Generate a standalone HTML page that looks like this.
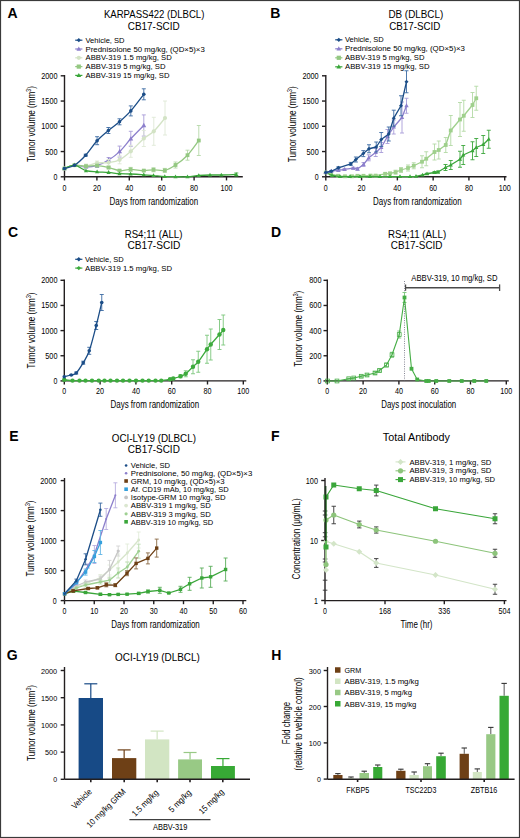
<!DOCTYPE html><html><head><meta charset="utf-8"><style>html,body{margin:0;padding:0;background:#fff;}svg{display:block;}text{font-family:"Liberation Sans",sans-serif;}</style></head><body>
<svg width="520" height="838" viewBox="0 0 520 838">
<rect x="0" y="0" width="520" height="838" fill="#fff"/>
<text x="7.50" y="17.70" font-size="14.0" font-weight="bold" fill="#000">A</text>
<text x="270.30" y="17.80" font-size="14.0" font-weight="bold" fill="#000">B</text>
<text x="8.00" y="236.80" font-size="14.0" font-weight="bold" fill="#000">C</text>
<text x="270.90" y="236.70" font-size="14.0" font-weight="bold" fill="#000">D</text>
<text x="9.30" y="440.90" font-size="14.0" font-weight="bold" fill="#000">E</text>
<text x="271.10" y="440.90" font-size="14.0" font-weight="bold" fill="#000">F</text>
<text x="6.80" y="660.20" font-size="14.0" font-weight="bold" fill="#000">G</text>
<text x="271.30" y="660.10" font-size="14.0" font-weight="bold" fill="#000">H</text>
<text x="103.88" y="18.10" font-size="10.2" textLength="100.45" lengthAdjust="spacingAndGlyphs">KARPASS422 (DLBCL)</text>
<text x="127.80" y="29.90" font-size="10.2" textLength="51.83" lengthAdjust="spacingAndGlyphs">CB17-SCID</text>
<line x1="75.20" y1="40.20" x2="82.40" y2="40.20" stroke="#1b4d87" stroke-width="1.2"/>
<path d="M78.80 38.10L80.90 40.20L78.80 42.30L76.70 40.20Z" fill="#1b4d87"/>
<text x="85.50" y="42.80" font-size="7.9" textLength="39.00" lengthAdjust="spacingAndGlyphs">Vehicle, SD</text>
<line x1="75.20" y1="49.00" x2="82.40" y2="49.00" stroke="#8c7fcc" stroke-width="1.2"/>
<path d="M78.80 46.48L81.11 50.68L76.49 50.68Z" fill="#8c7fcc"/>
<text x="85.50" y="51.60" font-size="7.9" textLength="119.30" lengthAdjust="spacingAndGlyphs">Prednisolone 50 mg/kg, (QD×5)×3</text>
<line x1="75.20" y1="57.80" x2="82.40" y2="57.80" stroke="#d3e3c5" stroke-width="1.2"/>
<circle cx="78.80" cy="57.80" r="2.10" fill="#d3e3c5"/>
<text x="85.50" y="60.40" font-size="7.9" textLength="86.30" lengthAdjust="spacingAndGlyphs">ABBV-319 1.5 mg/kg, SD</text>
<line x1="75.20" y1="66.60" x2="82.40" y2="66.60" stroke="#94c882" stroke-width="1.2"/>
<rect x="76.70" y="64.50" width="4.20" height="4.20" fill="#94c882"/>
<text x="85.50" y="69.20" font-size="7.9" textLength="80.00" lengthAdjust="spacingAndGlyphs">ABBV-319 5 mg/kg, SD</text>
<line x1="75.20" y1="75.40" x2="82.40" y2="75.40" stroke="#3aa63a" stroke-width="1.2"/>
<path d="M78.80 72.88L81.11 77.08L76.49 77.08Z" fill="#3aa63a"/>
<text x="85.50" y="78.00" font-size="7.9" textLength="84.00" lengthAdjust="spacingAndGlyphs">ABBV-319 15 mg/kg, SD</text>
<text x="34.70" y="162.10" font-size="10.4" textLength="76" lengthAdjust="spacingAndGlyphs" transform="rotate(-90 34.70 162.10)">Tumor volume (mm<tspan font-size="6.6" dy="-4.0">3</tspan><tspan dy="4.0">)</tspan></text>
<line x1="64.50" y1="75.00" x2="64.50" y2="176.80" stroke="#231f20" stroke-width="1.4"/>
<line x1="60.70" y1="176.80" x2="64.50" y2="176.80" stroke="#231f20" stroke-width="1.4"/>
<text x="57.50" y="179.80" font-size="8.4" text-anchor="end" textLength="3.90" lengthAdjust="spacingAndGlyphs">0</text>
<line x1="60.70" y1="151.55" x2="64.50" y2="151.55" stroke="#231f20" stroke-width="1.4"/>
<text x="57.50" y="154.55" font-size="8.4" text-anchor="end" textLength="12.20" lengthAdjust="spacingAndGlyphs">500</text>
<line x1="60.70" y1="126.30" x2="64.50" y2="126.30" stroke="#231f20" stroke-width="1.4"/>
<text x="57.50" y="129.30" font-size="8.4" text-anchor="end" textLength="16.20" lengthAdjust="spacingAndGlyphs">1000</text>
<line x1="60.70" y1="101.05" x2="64.50" y2="101.05" stroke="#231f20" stroke-width="1.4"/>
<text x="57.50" y="104.05" font-size="8.4" text-anchor="end" textLength="16.20" lengthAdjust="spacingAndGlyphs">1500</text>
<line x1="60.70" y1="75.80" x2="64.50" y2="75.80" stroke="#231f20" stroke-width="1.4"/>
<text x="57.50" y="78.80" font-size="8.4" text-anchor="end" textLength="16.30" lengthAdjust="spacingAndGlyphs">2000</text>
<line x1="64.50" y1="176.80" x2="242.80" y2="176.80" stroke="#231f20" stroke-width="1.4"/>
<line x1="64.50" y1="176.80" x2="64.50" y2="180.40" stroke="#231f20" stroke-width="1.4"/>
<text x="62.55" y="190.60" font-size="8.4" textLength="3.90" lengthAdjust="spacingAndGlyphs">0</text>
<line x1="96.90" y1="176.80" x2="96.90" y2="180.40" stroke="#231f20" stroke-width="1.4"/>
<text x="92.90" y="190.60" font-size="8.4" textLength="8.00" lengthAdjust="spacingAndGlyphs">20</text>
<line x1="129.30" y1="176.80" x2="129.30" y2="180.40" stroke="#231f20" stroke-width="1.4"/>
<text x="125.30" y="190.60" font-size="8.4" textLength="8.00" lengthAdjust="spacingAndGlyphs">40</text>
<line x1="161.70" y1="176.80" x2="161.70" y2="180.40" stroke="#231f20" stroke-width="1.4"/>
<text x="157.70" y="190.60" font-size="8.4" textLength="8.00" lengthAdjust="spacingAndGlyphs">60</text>
<line x1="194.10" y1="176.80" x2="194.10" y2="180.40" stroke="#231f20" stroke-width="1.4"/>
<text x="190.10" y="190.60" font-size="8.4" textLength="8.00" lengthAdjust="spacingAndGlyphs">80</text>
<line x1="226.50" y1="176.80" x2="226.50" y2="180.40" stroke="#231f20" stroke-width="1.4"/>
<text x="220.50" y="190.60" font-size="8.4" textLength="12.00" lengthAdjust="spacingAndGlyphs">100</text>
<text x="109.60" y="204.80" font-size="10.0" textLength="88.60" lengthAdjust="spacingAndGlyphs">Days from randomization</text>
<line x1="86.00" y1="166.00" x2="86.00" y2="168.00" stroke="#a89cd8" stroke-width="0.9"/>
<line x1="84.00" y1="166.00" x2="88.00" y2="166.00" stroke="#a89cd8" stroke-width="0.9"/>
<line x1="84.00" y1="168.00" x2="88.00" y2="168.00" stroke="#a89cd8" stroke-width="0.9"/>
<line x1="97.10" y1="163.50" x2="97.10" y2="167.50" stroke="#a89cd8" stroke-width="0.9"/>
<line x1="95.10" y1="163.50" x2="99.10" y2="163.50" stroke="#a89cd8" stroke-width="0.9"/>
<line x1="95.10" y1="167.50" x2="99.10" y2="167.50" stroke="#a89cd8" stroke-width="0.9"/>
<line x1="108.60" y1="157.50" x2="108.60" y2="162.50" stroke="#a89cd8" stroke-width="0.9"/>
<line x1="106.60" y1="157.50" x2="110.60" y2="157.50" stroke="#a89cd8" stroke-width="0.9"/>
<line x1="106.60" y1="162.50" x2="110.60" y2="162.50" stroke="#a89cd8" stroke-width="0.9"/>
<line x1="119.60" y1="146.10" x2="119.60" y2="157.10" stroke="#a89cd8" stroke-width="0.9"/>
<line x1="117.60" y1="146.10" x2="121.60" y2="146.10" stroke="#a89cd8" stroke-width="0.9"/>
<line x1="117.60" y1="157.10" x2="121.60" y2="157.10" stroke="#a89cd8" stroke-width="0.9"/>
<line x1="130.80" y1="131.30" x2="130.80" y2="146.30" stroke="#a89cd8" stroke-width="0.9"/>
<line x1="128.80" y1="131.30" x2="132.80" y2="131.30" stroke="#a89cd8" stroke-width="0.9"/>
<line x1="128.80" y1="146.30" x2="132.80" y2="146.30" stroke="#a89cd8" stroke-width="0.9"/>
<line x1="143.80" y1="114.90" x2="143.80" y2="136.10" stroke="#a89cd8" stroke-width="0.9"/>
<line x1="141.80" y1="114.90" x2="145.80" y2="114.90" stroke="#a89cd8" stroke-width="0.9"/>
<line x1="141.80" y1="136.10" x2="145.80" y2="136.10" stroke="#a89cd8" stroke-width="0.9"/>
<path d="M64.40 168.50C66.08 167.95 70.90 165.45 74.50 165.20C78.10 164.95 82.23 166.95 86.00 167.00C89.77 167.05 93.33 166.67 97.10 165.50C100.87 164.33 104.85 162.32 108.60 160.00C112.35 157.68 115.90 155.13 119.60 151.60C123.30 148.07 126.77 143.15 130.80 138.80C134.83 134.45 141.63 127.72 143.80 125.50" fill="none" stroke="#8c7fcc" stroke-width="1.3" stroke-linejoin="round"/>
<path d="M64.40 165.86L66.82 170.26L61.98 170.26Z" fill="#8c7fcc"/>
<path d="M74.50 162.56L76.92 166.96L72.08 166.96Z" fill="#8c7fcc"/>
<path d="M86.00 164.36L88.42 168.76L83.58 168.76Z" fill="#8c7fcc"/>
<path d="M97.10 162.86L99.52 167.26L94.68 167.26Z" fill="#8c7fcc"/>
<path d="M108.60 157.36L111.02 161.76L106.18 161.76Z" fill="#8c7fcc"/>
<path d="M119.60 148.96L122.02 153.36L117.18 153.36Z" fill="#8c7fcc"/>
<path d="M130.80 136.16L133.22 140.56L128.38 140.56Z" fill="#8c7fcc"/>
<path d="M143.80 122.86L146.22 127.26L141.38 127.26Z" fill="#8c7fcc"/>
<line x1="86.00" y1="164.00" x2="86.00" y2="168.00" stroke="#dfe9d6" stroke-width="0.9"/>
<line x1="84.00" y1="164.00" x2="88.00" y2="164.00" stroke="#dfe9d6" stroke-width="0.9"/>
<line x1="84.00" y1="168.00" x2="88.00" y2="168.00" stroke="#dfe9d6" stroke-width="0.9"/>
<line x1="97.10" y1="161.00" x2="97.10" y2="165.00" stroke="#dfe9d6" stroke-width="0.9"/>
<line x1="95.10" y1="161.00" x2="99.10" y2="161.00" stroke="#dfe9d6" stroke-width="0.9"/>
<line x1="95.10" y1="165.00" x2="99.10" y2="165.00" stroke="#dfe9d6" stroke-width="0.9"/>
<line x1="108.60" y1="159.50" x2="108.60" y2="165.50" stroke="#dfe9d6" stroke-width="0.9"/>
<line x1="106.60" y1="159.50" x2="110.60" y2="159.50" stroke="#dfe9d6" stroke-width="0.9"/>
<line x1="106.60" y1="165.50" x2="110.60" y2="165.50" stroke="#dfe9d6" stroke-width="0.9"/>
<line x1="119.60" y1="155.80" x2="119.60" y2="163.80" stroke="#dfe9d6" stroke-width="0.9"/>
<line x1="117.60" y1="155.80" x2="121.60" y2="155.80" stroke="#dfe9d6" stroke-width="0.9"/>
<line x1="117.60" y1="163.80" x2="121.60" y2="163.80" stroke="#dfe9d6" stroke-width="0.9"/>
<line x1="130.80" y1="145.30" x2="130.80" y2="157.30" stroke="#dfe9d6" stroke-width="0.9"/>
<line x1="128.80" y1="145.30" x2="132.80" y2="145.30" stroke="#dfe9d6" stroke-width="0.9"/>
<line x1="128.80" y1="157.30" x2="132.80" y2="157.30" stroke="#dfe9d6" stroke-width="0.9"/>
<line x1="143.80" y1="130.50" x2="143.80" y2="146.50" stroke="#dfe9d6" stroke-width="0.9"/>
<line x1="141.80" y1="130.50" x2="145.80" y2="130.50" stroke="#dfe9d6" stroke-width="0.9"/>
<line x1="141.80" y1="146.50" x2="145.80" y2="146.50" stroke="#dfe9d6" stroke-width="0.9"/>
<line x1="153.80" y1="117.30" x2="153.80" y2="145.30" stroke="#dfe9d6" stroke-width="0.9"/>
<line x1="151.80" y1="117.30" x2="155.80" y2="117.30" stroke="#dfe9d6" stroke-width="0.9"/>
<line x1="151.80" y1="145.30" x2="155.80" y2="145.30" stroke="#dfe9d6" stroke-width="0.9"/>
<line x1="165.00" y1="101.00" x2="165.00" y2="135.00" stroke="#dfe9d6" stroke-width="0.9"/>
<line x1="163.00" y1="101.00" x2="167.00" y2="101.00" stroke="#dfe9d6" stroke-width="0.9"/>
<line x1="163.00" y1="135.00" x2="167.00" y2="135.00" stroke="#dfe9d6" stroke-width="0.9"/>
<path d="M64.40 168.50C66.08 167.95 70.90 165.62 74.50 165.20C78.10 164.78 82.23 166.37 86.00 166.00C89.77 165.63 93.33 163.58 97.10 163.00C100.87 162.42 104.85 163.03 108.60 162.50C112.35 161.97 115.90 161.67 119.60 159.80C123.30 157.93 126.77 154.85 130.80 151.30C134.83 147.75 139.97 141.83 143.80 138.50C147.63 135.17 150.27 134.72 153.80 131.30C157.33 127.88 163.13 120.22 165.00 118.00" fill="none" stroke="#d3e3c5" stroke-width="1.3" stroke-linejoin="round"/>
<circle cx="64.40" cy="168.50" r="2.10" fill="#d3e3c5"/>
<circle cx="74.50" cy="165.20" r="2.10" fill="#d3e3c5"/>
<circle cx="86.00" cy="166.00" r="2.10" fill="#d3e3c5"/>
<circle cx="97.10" cy="163.00" r="2.10" fill="#d3e3c5"/>
<circle cx="108.60" cy="162.50" r="2.10" fill="#d3e3c5"/>
<circle cx="119.60" cy="159.80" r="2.10" fill="#d3e3c5"/>
<circle cx="130.80" cy="151.30" r="2.10" fill="#d3e3c5"/>
<circle cx="143.80" cy="138.50" r="2.10" fill="#d3e3c5"/>
<circle cx="153.80" cy="131.30" r="2.10" fill="#d3e3c5"/>
<circle cx="165.00" cy="118.00" r="2.10" fill="#d3e3c5"/>
<line x1="86.00" y1="165.20" x2="86.00" y2="167.20" stroke="#b5d8a8" stroke-width="0.9"/>
<line x1="84.00" y1="165.20" x2="88.00" y2="165.20" stroke="#b5d8a8" stroke-width="0.9"/>
<line x1="84.00" y1="167.20" x2="88.00" y2="167.20" stroke="#b5d8a8" stroke-width="0.9"/>
<line x1="97.10" y1="164.60" x2="97.10" y2="166.60" stroke="#b5d8a8" stroke-width="0.9"/>
<line x1="95.10" y1="164.60" x2="99.10" y2="164.60" stroke="#b5d8a8" stroke-width="0.9"/>
<line x1="95.10" y1="166.60" x2="99.10" y2="166.60" stroke="#b5d8a8" stroke-width="0.9"/>
<line x1="108.60" y1="166.60" x2="108.60" y2="168.60" stroke="#b5d8a8" stroke-width="0.9"/>
<line x1="106.60" y1="166.60" x2="110.60" y2="166.60" stroke="#b5d8a8" stroke-width="0.9"/>
<line x1="106.60" y1="168.60" x2="110.60" y2="168.60" stroke="#b5d8a8" stroke-width="0.9"/>
<line x1="119.50" y1="169.60" x2="119.50" y2="171.60" stroke="#b5d8a8" stroke-width="0.9"/>
<line x1="117.50" y1="169.60" x2="121.50" y2="169.60" stroke="#b5d8a8" stroke-width="0.9"/>
<line x1="117.50" y1="171.60" x2="121.50" y2="171.60" stroke="#b5d8a8" stroke-width="0.9"/>
<line x1="130.60" y1="167.40" x2="130.60" y2="171.40" stroke="#b5d8a8" stroke-width="0.9"/>
<line x1="128.60" y1="167.40" x2="132.60" y2="167.40" stroke="#b5d8a8" stroke-width="0.9"/>
<line x1="128.60" y1="171.40" x2="132.60" y2="171.40" stroke="#b5d8a8" stroke-width="0.9"/>
<line x1="143.80" y1="169.60" x2="143.80" y2="171.60" stroke="#b5d8a8" stroke-width="0.9"/>
<line x1="141.80" y1="169.60" x2="145.80" y2="169.60" stroke="#b5d8a8" stroke-width="0.9"/>
<line x1="141.80" y1="171.60" x2="145.80" y2="171.60" stroke="#b5d8a8" stroke-width="0.9"/>
<line x1="153.50" y1="167.80" x2="153.50" y2="171.80" stroke="#b5d8a8" stroke-width="0.9"/>
<line x1="151.50" y1="167.80" x2="155.50" y2="167.80" stroke="#b5d8a8" stroke-width="0.9"/>
<line x1="151.50" y1="171.80" x2="155.50" y2="171.80" stroke="#b5d8a8" stroke-width="0.9"/>
<line x1="164.80" y1="168.40" x2="164.80" y2="172.40" stroke="#b5d8a8" stroke-width="0.9"/>
<line x1="162.80" y1="168.40" x2="166.80" y2="168.40" stroke="#b5d8a8" stroke-width="0.9"/>
<line x1="162.80" y1="172.40" x2="166.80" y2="172.40" stroke="#b5d8a8" stroke-width="0.9"/>
<line x1="175.50" y1="162.00" x2="175.50" y2="168.00" stroke="#b5d8a8" stroke-width="0.9"/>
<line x1="173.50" y1="162.00" x2="177.50" y2="162.00" stroke="#b5d8a8" stroke-width="0.9"/>
<line x1="173.50" y1="168.00" x2="177.50" y2="168.00" stroke="#b5d8a8" stroke-width="0.9"/>
<line x1="187.50" y1="150.20" x2="187.50" y2="160.20" stroke="#b5d8a8" stroke-width="0.9"/>
<line x1="185.50" y1="150.20" x2="189.50" y2="150.20" stroke="#b5d8a8" stroke-width="0.9"/>
<line x1="185.50" y1="160.20" x2="189.50" y2="160.20" stroke="#b5d8a8" stroke-width="0.9"/>
<line x1="198.80" y1="125.50" x2="198.80" y2="155.50" stroke="#b5d8a8" stroke-width="0.9"/>
<line x1="196.80" y1="125.50" x2="200.80" y2="125.50" stroke="#b5d8a8" stroke-width="0.9"/>
<line x1="196.80" y1="155.50" x2="200.80" y2="155.50" stroke="#b5d8a8" stroke-width="0.9"/>
<path d="M64.40 168.50C66.08 167.95 70.90 165.58 74.50 165.20C78.10 164.82 82.23 166.13 86.00 166.20C89.77 166.27 93.33 165.37 97.10 165.60C100.87 165.83 104.87 166.77 108.60 167.60C112.33 168.43 115.83 170.30 119.50 170.60C123.17 170.90 126.55 169.40 130.60 169.40C134.65 169.40 139.98 170.53 143.80 170.60C147.62 170.67 150.00 169.83 153.50 169.80C157.00 169.77 161.13 171.20 164.80 170.40C168.47 169.60 171.72 167.53 175.50 165.00C179.28 162.47 183.62 159.28 187.50 155.20C191.38 151.12 196.92 142.95 198.80 140.50" fill="none" stroke="#94c882" stroke-width="1.3" stroke-linejoin="round"/>
<rect x="62.50" y="166.60" width="3.80" height="3.80" fill="#94c882"/>
<rect x="72.60" y="163.30" width="3.80" height="3.80" fill="#94c882"/>
<rect x="84.10" y="164.30" width="3.80" height="3.80" fill="#94c882"/>
<rect x="95.20" y="163.70" width="3.80" height="3.80" fill="#94c882"/>
<rect x="106.70" y="165.70" width="3.80" height="3.80" fill="#94c882"/>
<rect x="117.60" y="168.70" width="3.80" height="3.80" fill="#94c882"/>
<rect x="128.70" y="167.50" width="3.80" height="3.80" fill="#94c882"/>
<rect x="141.90" y="168.70" width="3.80" height="3.80" fill="#94c882"/>
<rect x="151.60" y="167.90" width="3.80" height="3.80" fill="#94c882"/>
<rect x="162.90" y="168.50" width="3.80" height="3.80" fill="#94c882"/>
<rect x="173.60" y="163.10" width="3.80" height="3.80" fill="#94c882"/>
<rect x="185.60" y="153.30" width="3.80" height="3.80" fill="#94c882"/>
<rect x="196.90" y="138.60" width="3.80" height="3.80" fill="#94c882"/>
<line x1="236.30" y1="173.00" x2="236.30" y2="176.00" stroke="#3aa63a" stroke-width="0.9"/>
<line x1="234.30" y1="173.00" x2="238.30" y2="173.00" stroke="#3aa63a" stroke-width="0.9"/>
<line x1="234.30" y1="176.00" x2="238.30" y2="176.00" stroke="#3aa63a" stroke-width="0.9"/>
<path d="M64.40 168.50C66.08 167.95 70.90 164.83 74.50 165.20C78.10 165.57 82.23 169.60 86.00 170.70C89.77 171.80 93.33 171.52 97.10 171.80C100.87 172.08 104.87 172.08 108.60 172.40C112.33 172.72 115.83 173.43 119.50 173.70C123.17 173.97 126.55 173.82 130.60 174.00C134.65 174.18 139.98 174.53 143.80 174.80C147.62 175.07 150.00 175.30 153.50 175.60C157.00 175.90 161.13 176.42 164.80 176.60C168.47 176.78 171.72 176.68 175.50 176.70C179.28 176.72 183.62 176.90 187.50 176.70C191.38 176.50 195.05 175.78 198.80 175.50C202.55 175.22 206.25 175.08 210.00 175.00C213.75 174.92 216.92 175.08 221.30 175.00C225.68 174.92 233.80 174.58 236.30 174.50" fill="none" stroke="#3aa63a" stroke-width="1.3" stroke-linejoin="round"/>
<path d="M64.40 166.22L66.49 170.02L62.31 170.02Z" fill="#3aa63a"/>
<path d="M74.50 162.92L76.59 166.72L72.41 166.72Z" fill="#3aa63a"/>
<path d="M86.00 168.42L88.09 172.22L83.91 172.22Z" fill="#3aa63a"/>
<path d="M97.10 169.52L99.19 173.32L95.01 173.32Z" fill="#3aa63a"/>
<path d="M108.60 170.12L110.69 173.92L106.51 173.92Z" fill="#3aa63a"/>
<path d="M119.50 171.42L121.59 175.22L117.41 175.22Z" fill="#3aa63a"/>
<path d="M130.60 171.72L132.69 175.52L128.51 175.52Z" fill="#3aa63a"/>
<path d="M143.80 172.52L145.89 176.32L141.71 176.32Z" fill="#3aa63a"/>
<path d="M153.50 173.32L155.59 177.12L151.41 177.12Z" fill="#3aa63a"/>
<path d="M164.80 174.32L166.89 178.12L162.71 178.12Z" fill="#3aa63a"/>
<path d="M175.50 174.42L177.59 178.22L173.41 178.22Z" fill="#3aa63a"/>
<path d="M187.50 174.42L189.59 178.22L185.41 178.22Z" fill="#3aa63a"/>
<path d="M198.80 173.22L200.89 177.02L196.71 177.02Z" fill="#3aa63a"/>
<path d="M210.00 172.72L212.09 176.52L207.91 176.52Z" fill="#3aa63a"/>
<path d="M221.30 172.72L223.39 176.52L219.21 176.52Z" fill="#3aa63a"/>
<path d="M236.30 172.22L238.39 176.02L234.21 176.02Z" fill="#3aa63a"/>
<line x1="85.70" y1="154.20" x2="85.70" y2="156.20" stroke="#3b6aa3" stroke-width="0.9"/>
<line x1="83.70" y1="154.20" x2="87.70" y2="154.20" stroke="#3b6aa3" stroke-width="0.9"/>
<line x1="83.70" y1="156.20" x2="87.70" y2="156.20" stroke="#3b6aa3" stroke-width="0.9"/>
<line x1="97.10" y1="136.70" x2="97.10" y2="144.70" stroke="#3b6aa3" stroke-width="0.9"/>
<line x1="95.10" y1="136.70" x2="99.10" y2="136.70" stroke="#3b6aa3" stroke-width="0.9"/>
<line x1="95.10" y1="144.70" x2="99.10" y2="144.70" stroke="#3b6aa3" stroke-width="0.9"/>
<line x1="108.40" y1="127.50" x2="108.40" y2="133.50" stroke="#3b6aa3" stroke-width="0.9"/>
<line x1="106.40" y1="127.50" x2="110.40" y2="127.50" stroke="#3b6aa3" stroke-width="0.9"/>
<line x1="106.40" y1="133.50" x2="110.40" y2="133.50" stroke="#3b6aa3" stroke-width="0.9"/>
<line x1="119.50" y1="118.80" x2="119.50" y2="124.80" stroke="#3b6aa3" stroke-width="0.9"/>
<line x1="117.50" y1="118.80" x2="121.50" y2="118.80" stroke="#3b6aa3" stroke-width="0.9"/>
<line x1="117.50" y1="124.80" x2="121.50" y2="124.80" stroke="#3b6aa3" stroke-width="0.9"/>
<line x1="130.80" y1="105.90" x2="130.80" y2="115.90" stroke="#3b6aa3" stroke-width="0.9"/>
<line x1="128.80" y1="105.90" x2="132.80" y2="105.90" stroke="#3b6aa3" stroke-width="0.9"/>
<line x1="128.80" y1="115.90" x2="132.80" y2="115.90" stroke="#3b6aa3" stroke-width="0.9"/>
<line x1="143.80" y1="88.80" x2="143.80" y2="99.80" stroke="#3b6aa3" stroke-width="0.9"/>
<line x1="141.80" y1="88.80" x2="145.80" y2="88.80" stroke="#3b6aa3" stroke-width="0.9"/>
<line x1="141.80" y1="99.80" x2="145.80" y2="99.80" stroke="#3b6aa3" stroke-width="0.9"/>
<path d="M64.40 168.50C66.08 167.95 70.95 167.42 74.50 165.20C78.05 162.98 81.93 159.28 85.70 155.20C89.47 151.12 93.32 144.82 97.10 140.70C100.88 136.58 104.67 133.65 108.40 130.50C112.13 127.35 115.77 125.07 119.50 121.80C123.23 118.53 126.75 115.48 130.80 110.90C134.85 106.32 141.63 97.07 143.80 94.30" fill="none" stroke="#1b4d87" stroke-width="1.3" stroke-linejoin="round"/>
<circle cx="64.40" cy="168.50" r="1.80" fill="#1b4d87"/>
<circle cx="74.50" cy="165.20" r="1.80" fill="#1b4d87"/>
<circle cx="85.70" cy="155.20" r="1.80" fill="#1b4d87"/>
<circle cx="97.10" cy="140.70" r="1.80" fill="#1b4d87"/>
<circle cx="108.40" cy="130.50" r="1.80" fill="#1b4d87"/>
<circle cx="119.50" cy="121.80" r="1.80" fill="#1b4d87"/>
<circle cx="130.80" cy="110.90" r="1.80" fill="#1b4d87"/>
<circle cx="143.80" cy="94.30" r="1.80" fill="#1b4d87"/>
<text x="388.41" y="18.05" font-size="10.2" textLength="54.85" lengthAdjust="spacingAndGlyphs">DB (DLBCL)</text>
<text x="389.21" y="29.90" font-size="10.2" textLength="51.12" lengthAdjust="spacingAndGlyphs">CB17-SCID</text>
<line x1="335.20" y1="39.80" x2="342.40" y2="39.80" stroke="#1b4d87" stroke-width="1.2"/>
<path d="M338.80 37.70L340.90 39.80L338.80 41.90L336.70 39.80Z" fill="#1b4d87"/>
<text x="345.00" y="42.40" font-size="7.9" textLength="38.80" lengthAdjust="spacingAndGlyphs">Vehicle, SD</text>
<line x1="335.20" y1="48.80" x2="342.40" y2="48.80" stroke="#8c7fcc" stroke-width="1.2"/>
<path d="M338.80 46.28L341.11 50.48L336.49 50.48Z" fill="#8c7fcc"/>
<text x="345.00" y="51.40" font-size="7.9" textLength="120.00" lengthAdjust="spacingAndGlyphs">Prednisolone 50 mg/kg, (QD×5)×3</text>
<line x1="335.20" y1="57.80" x2="342.40" y2="57.80" stroke="#94c882" stroke-width="1.2"/>
<rect x="336.70" y="55.70" width="4.20" height="4.20" fill="#94c882"/>
<text x="345.00" y="60.40" font-size="7.9" textLength="79.50" lengthAdjust="spacingAndGlyphs">ABBV-319 5 mg/kg, SD</text>
<line x1="335.20" y1="66.80" x2="342.40" y2="66.80" stroke="#3aa63a" stroke-width="1.2"/>
<path d="M338.80 64.28L341.11 68.48L336.49 68.48Z" fill="#3aa63a"/>
<text x="345.00" y="69.40" font-size="7.9" textLength="84.50" lengthAdjust="spacingAndGlyphs">ABBV-319 15 mg/kg, SD</text>
<text x="296.00" y="162.30" font-size="10.4" textLength="76" lengthAdjust="spacingAndGlyphs" transform="rotate(-90 296.00 162.30)">Tumor volume (mm<tspan font-size="6.6" dy="-4.0">3</tspan><tspan dy="4.0">)</tspan></text>
<line x1="325.80" y1="75.00" x2="325.80" y2="176.80" stroke="#231f20" stroke-width="1.4"/>
<line x1="322.00" y1="176.80" x2="325.80" y2="176.80" stroke="#231f20" stroke-width="1.4"/>
<text x="318.70" y="179.80" font-size="8.4" text-anchor="end" textLength="3.90" lengthAdjust="spacingAndGlyphs">0</text>
<line x1="322.00" y1="151.55" x2="325.80" y2="151.55" stroke="#231f20" stroke-width="1.4"/>
<text x="318.70" y="154.55" font-size="8.4" text-anchor="end" textLength="12.20" lengthAdjust="spacingAndGlyphs">500</text>
<line x1="322.00" y1="126.30" x2="325.80" y2="126.30" stroke="#231f20" stroke-width="1.4"/>
<text x="318.70" y="129.30" font-size="8.4" text-anchor="end" textLength="16.20" lengthAdjust="spacingAndGlyphs">1000</text>
<line x1="322.00" y1="101.05" x2="325.80" y2="101.05" stroke="#231f20" stroke-width="1.4"/>
<text x="318.70" y="104.05" font-size="8.4" text-anchor="end" textLength="16.20" lengthAdjust="spacingAndGlyphs">1500</text>
<line x1="322.00" y1="75.80" x2="325.80" y2="75.80" stroke="#231f20" stroke-width="1.4"/>
<text x="318.70" y="78.80" font-size="8.4" text-anchor="end" textLength="16.30" lengthAdjust="spacingAndGlyphs">2000</text>
<line x1="325.80" y1="176.80" x2="506.50" y2="176.80" stroke="#231f20" stroke-width="1.4"/>
<line x1="325.80" y1="176.80" x2="325.80" y2="180.40" stroke="#231f20" stroke-width="1.4"/>
<text x="323.85" y="190.60" font-size="8.4" textLength="3.90" lengthAdjust="spacingAndGlyphs">0</text>
<line x1="361.58" y1="176.80" x2="361.58" y2="180.40" stroke="#231f20" stroke-width="1.4"/>
<text x="357.58" y="190.60" font-size="8.4" textLength="8.00" lengthAdjust="spacingAndGlyphs">20</text>
<line x1="397.36" y1="176.80" x2="397.36" y2="180.40" stroke="#231f20" stroke-width="1.4"/>
<text x="393.36" y="190.60" font-size="8.4" textLength="8.00" lengthAdjust="spacingAndGlyphs">40</text>
<line x1="433.14" y1="176.80" x2="433.14" y2="180.40" stroke="#231f20" stroke-width="1.4"/>
<text x="429.14" y="190.60" font-size="8.4" textLength="8.00" lengthAdjust="spacingAndGlyphs">60</text>
<line x1="468.92" y1="176.80" x2="468.92" y2="180.40" stroke="#231f20" stroke-width="1.4"/>
<text x="464.92" y="190.60" font-size="8.4" textLength="8.00" lengthAdjust="spacingAndGlyphs">80</text>
<line x1="504.70" y1="176.80" x2="504.70" y2="180.40" stroke="#231f20" stroke-width="1.4"/>
<text x="498.70" y="190.60" font-size="8.4" textLength="12.00" lengthAdjust="spacingAndGlyphs">100</text>
<text x="373.00" y="204.80" font-size="10.0" textLength="88.60" lengthAdjust="spacingAndGlyphs">Days from randomization</text>
<line x1="331.00" y1="173.50" x2="331.00" y2="174.50" stroke="#b3d9a5" stroke-width="0.9"/>
<line x1="329.00" y1="173.50" x2="333.00" y2="173.50" stroke="#b3d9a5" stroke-width="0.9"/>
<line x1="329.00" y1="174.50" x2="333.00" y2="174.50" stroke="#b3d9a5" stroke-width="0.9"/>
<line x1="338.00" y1="175.30" x2="338.00" y2="176.30" stroke="#b3d9a5" stroke-width="0.9"/>
<line x1="336.00" y1="175.30" x2="340.00" y2="175.30" stroke="#b3d9a5" stroke-width="0.9"/>
<line x1="336.00" y1="176.30" x2="340.00" y2="176.30" stroke="#b3d9a5" stroke-width="0.9"/>
<line x1="345.00" y1="175.80" x2="345.00" y2="176.80" stroke="#b3d9a5" stroke-width="0.9"/>
<line x1="343.00" y1="175.80" x2="347.00" y2="175.80" stroke="#b3d9a5" stroke-width="0.9"/>
<line x1="343.00" y1="176.80" x2="347.00" y2="176.80" stroke="#b3d9a5" stroke-width="0.9"/>
<line x1="352.00" y1="175.80" x2="352.00" y2="176.80" stroke="#b3d9a5" stroke-width="0.9"/>
<line x1="350.00" y1="175.80" x2="354.00" y2="175.80" stroke="#b3d9a5" stroke-width="0.9"/>
<line x1="350.00" y1="176.80" x2="354.00" y2="176.80" stroke="#b3d9a5" stroke-width="0.9"/>
<line x1="357.50" y1="175.30" x2="357.50" y2="176.30" stroke="#b3d9a5" stroke-width="0.9"/>
<line x1="355.50" y1="175.30" x2="359.50" y2="175.30" stroke="#b3d9a5" stroke-width="0.9"/>
<line x1="355.50" y1="176.30" x2="359.50" y2="176.30" stroke="#b3d9a5" stroke-width="0.9"/>
<line x1="363.50" y1="175.30" x2="363.50" y2="176.30" stroke="#b3d9a5" stroke-width="0.9"/>
<line x1="361.50" y1="175.30" x2="365.50" y2="175.30" stroke="#b3d9a5" stroke-width="0.9"/>
<line x1="361.50" y1="176.30" x2="365.50" y2="176.30" stroke="#b3d9a5" stroke-width="0.9"/>
<line x1="370.50" y1="174.60" x2="370.50" y2="176.60" stroke="#b3d9a5" stroke-width="0.9"/>
<line x1="368.50" y1="174.60" x2="372.50" y2="174.60" stroke="#b3d9a5" stroke-width="0.9"/>
<line x1="368.50" y1="176.60" x2="372.50" y2="176.60" stroke="#b3d9a5" stroke-width="0.9"/>
<line x1="375.60" y1="174.60" x2="375.60" y2="176.60" stroke="#b3d9a5" stroke-width="0.9"/>
<line x1="373.60" y1="174.60" x2="377.60" y2="174.60" stroke="#b3d9a5" stroke-width="0.9"/>
<line x1="373.60" y1="176.60" x2="377.60" y2="176.60" stroke="#b3d9a5" stroke-width="0.9"/>
<line x1="385.20" y1="172.80" x2="385.20" y2="174.80" stroke="#b3d9a5" stroke-width="0.9"/>
<line x1="383.20" y1="172.80" x2="387.20" y2="172.80" stroke="#b3d9a5" stroke-width="0.9"/>
<line x1="383.20" y1="174.80" x2="387.20" y2="174.80" stroke="#b3d9a5" stroke-width="0.9"/>
<line x1="390.00" y1="172.00" x2="390.00" y2="175.00" stroke="#b3d9a5" stroke-width="0.9"/>
<line x1="388.00" y1="172.00" x2="392.00" y2="172.00" stroke="#b3d9a5" stroke-width="0.9"/>
<line x1="388.00" y1="175.00" x2="392.00" y2="175.00" stroke="#b3d9a5" stroke-width="0.9"/>
<line x1="395.60" y1="170.20" x2="395.60" y2="174.20" stroke="#b3d9a5" stroke-width="0.9"/>
<line x1="393.60" y1="170.20" x2="397.60" y2="170.20" stroke="#b3d9a5" stroke-width="0.9"/>
<line x1="393.60" y1="174.20" x2="397.60" y2="174.20" stroke="#b3d9a5" stroke-width="0.9"/>
<line x1="401.00" y1="167.50" x2="401.00" y2="172.50" stroke="#b3d9a5" stroke-width="0.9"/>
<line x1="399.00" y1="167.50" x2="403.00" y2="167.50" stroke="#b3d9a5" stroke-width="0.9"/>
<line x1="399.00" y1="172.50" x2="403.00" y2="172.50" stroke="#b3d9a5" stroke-width="0.9"/>
<line x1="408.00" y1="165.00" x2="408.00" y2="171.00" stroke="#b3d9a5" stroke-width="0.9"/>
<line x1="406.00" y1="165.00" x2="410.00" y2="165.00" stroke="#b3d9a5" stroke-width="0.9"/>
<line x1="406.00" y1="171.00" x2="410.00" y2="171.00" stroke="#b3d9a5" stroke-width="0.9"/>
<line x1="413.75" y1="162.75" x2="413.75" y2="168.75" stroke="#b3d9a5" stroke-width="0.9"/>
<line x1="411.75" y1="162.75" x2="415.75" y2="162.75" stroke="#b3d9a5" stroke-width="0.9"/>
<line x1="411.75" y1="168.75" x2="415.75" y2="168.75" stroke="#b3d9a5" stroke-width="0.9"/>
<line x1="422.00" y1="155.75" x2="422.00" y2="167.75" stroke="#b3d9a5" stroke-width="0.9"/>
<line x1="420.00" y1="155.75" x2="424.00" y2="155.75" stroke="#b3d9a5" stroke-width="0.9"/>
<line x1="420.00" y1="167.75" x2="424.00" y2="167.75" stroke="#b3d9a5" stroke-width="0.9"/>
<line x1="426.25" y1="151.75" x2="426.25" y2="165.75" stroke="#b3d9a5" stroke-width="0.9"/>
<line x1="424.25" y1="151.75" x2="428.25" y2="151.75" stroke="#b3d9a5" stroke-width="0.9"/>
<line x1="424.25" y1="165.75" x2="428.25" y2="165.75" stroke="#b3d9a5" stroke-width="0.9"/>
<line x1="434.50" y1="144.00" x2="434.50" y2="160.00" stroke="#b3d9a5" stroke-width="0.9"/>
<line x1="432.50" y1="144.00" x2="436.50" y2="144.00" stroke="#b3d9a5" stroke-width="0.9"/>
<line x1="432.50" y1="160.00" x2="436.50" y2="160.00" stroke="#b3d9a5" stroke-width="0.9"/>
<line x1="438.75" y1="141.00" x2="438.75" y2="159.00" stroke="#b3d9a5" stroke-width="0.9"/>
<line x1="436.75" y1="141.00" x2="440.75" y2="141.00" stroke="#b3d9a5" stroke-width="0.9"/>
<line x1="436.75" y1="159.00" x2="440.75" y2="159.00" stroke="#b3d9a5" stroke-width="0.9"/>
<line x1="445.75" y1="137.50" x2="445.75" y2="152.50" stroke="#b3d9a5" stroke-width="0.9"/>
<line x1="443.75" y1="137.50" x2="447.75" y2="137.50" stroke="#b3d9a5" stroke-width="0.9"/>
<line x1="443.75" y1="152.50" x2="447.75" y2="152.50" stroke="#b3d9a5" stroke-width="0.9"/>
<line x1="450.75" y1="115.50" x2="450.75" y2="145.50" stroke="#b3d9a5" stroke-width="0.9"/>
<line x1="448.75" y1="115.50" x2="452.75" y2="115.50" stroke="#b3d9a5" stroke-width="0.9"/>
<line x1="448.75" y1="145.50" x2="452.75" y2="145.50" stroke="#b3d9a5" stroke-width="0.9"/>
<line x1="460.00" y1="102.50" x2="460.00" y2="136.50" stroke="#b3d9a5" stroke-width="0.9"/>
<line x1="458.00" y1="102.50" x2="462.00" y2="102.50" stroke="#b3d9a5" stroke-width="0.9"/>
<line x1="458.00" y1="136.50" x2="462.00" y2="136.50" stroke="#b3d9a5" stroke-width="0.9"/>
<line x1="463.75" y1="100.25" x2="463.75" y2="131.25" stroke="#b3d9a5" stroke-width="0.9"/>
<line x1="461.75" y1="100.25" x2="465.75" y2="100.25" stroke="#b3d9a5" stroke-width="0.9"/>
<line x1="461.75" y1="131.25" x2="465.75" y2="131.25" stroke="#b3d9a5" stroke-width="0.9"/>
<line x1="472.50" y1="92.50" x2="472.50" y2="117.50" stroke="#b3d9a5" stroke-width="0.9"/>
<line x1="470.50" y1="92.50" x2="474.50" y2="92.50" stroke="#b3d9a5" stroke-width="0.9"/>
<line x1="470.50" y1="117.50" x2="474.50" y2="117.50" stroke="#b3d9a5" stroke-width="0.9"/>
<line x1="476.25" y1="86.25" x2="476.25" y2="110.25" stroke="#b3d9a5" stroke-width="0.9"/>
<line x1="474.25" y1="86.25" x2="478.25" y2="86.25" stroke="#b3d9a5" stroke-width="0.9"/>
<line x1="474.25" y1="110.25" x2="478.25" y2="110.25" stroke="#b3d9a5" stroke-width="0.9"/>
<polyline points="325.75,172.50 331.00,174.00 338.00,175.80 345.00,176.30 352.00,176.30 357.50,175.80 363.50,175.80 370.50,175.60 375.60,175.60 385.20,173.80 390.00,173.50 395.60,172.20 401.00,170.00 408.00,168.00 413.75,165.75 422.00,161.75 426.25,158.75 434.50,152.00 438.75,150.00 445.75,145.00 450.75,130.50 460.00,119.50 463.75,115.75 472.50,105.00 476.25,98.25" fill="none" stroke="#9fd08c" stroke-width="1.3" stroke-linejoin="round"/>
<rect x="323.85" y="170.60" width="3.80" height="3.80" fill="#9fd08c"/>
<rect x="329.10" y="172.10" width="3.80" height="3.80" fill="#9fd08c"/>
<rect x="336.10" y="173.90" width="3.80" height="3.80" fill="#9fd08c"/>
<rect x="343.10" y="174.40" width="3.80" height="3.80" fill="#9fd08c"/>
<rect x="350.10" y="174.40" width="3.80" height="3.80" fill="#9fd08c"/>
<rect x="355.60" y="173.90" width="3.80" height="3.80" fill="#9fd08c"/>
<rect x="361.60" y="173.90" width="3.80" height="3.80" fill="#9fd08c"/>
<rect x="368.60" y="173.70" width="3.80" height="3.80" fill="#9fd08c"/>
<rect x="373.70" y="173.70" width="3.80" height="3.80" fill="#9fd08c"/>
<rect x="383.30" y="171.90" width="3.80" height="3.80" fill="#9fd08c"/>
<rect x="388.10" y="171.60" width="3.80" height="3.80" fill="#9fd08c"/>
<rect x="393.70" y="170.30" width="3.80" height="3.80" fill="#9fd08c"/>
<rect x="399.10" y="168.10" width="3.80" height="3.80" fill="#9fd08c"/>
<rect x="406.10" y="166.10" width="3.80" height="3.80" fill="#9fd08c"/>
<rect x="411.85" y="163.85" width="3.80" height="3.80" fill="#9fd08c"/>
<rect x="420.10" y="159.85" width="3.80" height="3.80" fill="#9fd08c"/>
<rect x="424.35" y="156.85" width="3.80" height="3.80" fill="#9fd08c"/>
<rect x="432.60" y="150.10" width="3.80" height="3.80" fill="#9fd08c"/>
<rect x="436.85" y="148.10" width="3.80" height="3.80" fill="#9fd08c"/>
<rect x="443.85" y="143.10" width="3.80" height="3.80" fill="#9fd08c"/>
<rect x="448.85" y="128.60" width="3.80" height="3.80" fill="#9fd08c"/>
<rect x="458.10" y="117.60" width="3.80" height="3.80" fill="#9fd08c"/>
<rect x="461.85" y="113.85" width="3.80" height="3.80" fill="#9fd08c"/>
<rect x="470.60" y="103.10" width="3.80" height="3.80" fill="#9fd08c"/>
<rect x="474.35" y="96.35" width="3.80" height="3.80" fill="#9fd08c"/>
<line x1="427.00" y1="173.25" x2="427.00" y2="174.25" stroke="#3aa63a" stroke-width="0.9"/>
<line x1="425.00" y1="173.25" x2="429.00" y2="173.25" stroke="#3aa63a" stroke-width="0.9"/>
<line x1="425.00" y1="174.25" x2="429.00" y2="174.25" stroke="#3aa63a" stroke-width="0.9"/>
<line x1="434.50" y1="171.50" x2="434.50" y2="173.50" stroke="#3aa63a" stroke-width="0.9"/>
<line x1="432.50" y1="171.50" x2="436.50" y2="171.50" stroke="#3aa63a" stroke-width="0.9"/>
<line x1="432.50" y1="173.50" x2="436.50" y2="173.50" stroke="#3aa63a" stroke-width="0.9"/>
<line x1="438.00" y1="171.00" x2="438.00" y2="173.00" stroke="#3aa63a" stroke-width="0.9"/>
<line x1="436.00" y1="171.00" x2="440.00" y2="171.00" stroke="#3aa63a" stroke-width="0.9"/>
<line x1="436.00" y1="173.00" x2="440.00" y2="173.00" stroke="#3aa63a" stroke-width="0.9"/>
<line x1="445.50" y1="164.50" x2="445.50" y2="170.50" stroke="#3aa63a" stroke-width="0.9"/>
<line x1="443.50" y1="164.50" x2="447.50" y2="164.50" stroke="#3aa63a" stroke-width="0.9"/>
<line x1="443.50" y1="170.50" x2="447.50" y2="170.50" stroke="#3aa63a" stroke-width="0.9"/>
<line x1="450.75" y1="160.50" x2="450.75" y2="169.50" stroke="#3aa63a" stroke-width="0.9"/>
<line x1="448.75" y1="160.50" x2="452.75" y2="160.50" stroke="#3aa63a" stroke-width="0.9"/>
<line x1="448.75" y1="169.50" x2="452.75" y2="169.50" stroke="#3aa63a" stroke-width="0.9"/>
<line x1="460.00" y1="151.25" x2="460.00" y2="167.25" stroke="#3aa63a" stroke-width="0.9"/>
<line x1="458.00" y1="151.25" x2="462.00" y2="151.25" stroke="#3aa63a" stroke-width="0.9"/>
<line x1="458.00" y1="167.25" x2="462.00" y2="167.25" stroke="#3aa63a" stroke-width="0.9"/>
<line x1="463.25" y1="145.50" x2="463.25" y2="164.50" stroke="#3aa63a" stroke-width="0.9"/>
<line x1="461.25" y1="145.50" x2="465.25" y2="145.50" stroke="#3aa63a" stroke-width="0.9"/>
<line x1="461.25" y1="164.50" x2="465.25" y2="164.50" stroke="#3aa63a" stroke-width="0.9"/>
<line x1="472.50" y1="141.75" x2="472.50" y2="159.75" stroke="#3aa63a" stroke-width="0.9"/>
<line x1="470.50" y1="141.75" x2="474.50" y2="141.75" stroke="#3aa63a" stroke-width="0.9"/>
<line x1="470.50" y1="159.75" x2="474.50" y2="159.75" stroke="#3aa63a" stroke-width="0.9"/>
<line x1="476.25" y1="138.50" x2="476.25" y2="156.50" stroke="#3aa63a" stroke-width="0.9"/>
<line x1="474.25" y1="138.50" x2="478.25" y2="138.50" stroke="#3aa63a" stroke-width="0.9"/>
<line x1="474.25" y1="156.50" x2="478.25" y2="156.50" stroke="#3aa63a" stroke-width="0.9"/>
<line x1="483.25" y1="135.50" x2="483.25" y2="153.50" stroke="#3aa63a" stroke-width="0.9"/>
<line x1="481.25" y1="135.50" x2="485.25" y2="135.50" stroke="#3aa63a" stroke-width="0.9"/>
<line x1="481.25" y1="153.50" x2="485.25" y2="153.50" stroke="#3aa63a" stroke-width="0.9"/>
<line x1="488.75" y1="130.25" x2="488.75" y2="148.25" stroke="#3aa63a" stroke-width="0.9"/>
<line x1="486.75" y1="130.25" x2="490.75" y2="130.25" stroke="#3aa63a" stroke-width="0.9"/>
<line x1="486.75" y1="148.25" x2="490.75" y2="148.25" stroke="#3aa63a" stroke-width="0.9"/>
<polyline points="325.75,172.50 332.00,175.50 340.00,176.60 350.00,176.60 360.00,176.60 370.00,176.60 380.00,176.60 390.00,176.60 400.00,176.60 410.00,176.60 416.00,176.30 422.50,175.00 427.00,173.75 434.50,172.50 438.00,172.00 445.50,167.50 450.75,165.00 460.00,159.25 463.25,155.00 472.50,150.75 476.25,147.50 483.25,144.50 488.75,139.25" fill="none" stroke="#3aa63a" stroke-width="1.3" stroke-linejoin="round"/>
<path d="M325.75 170.22L327.84 174.02L323.66 174.02Z" fill="#3aa63a"/>
<path d="M332.00 173.22L334.09 177.02L329.91 177.02Z" fill="#3aa63a"/>
<path d="M340.00 174.32L342.09 178.12L337.91 178.12Z" fill="#3aa63a"/>
<path d="M350.00 174.32L352.09 178.12L347.91 178.12Z" fill="#3aa63a"/>
<path d="M360.00 174.32L362.09 178.12L357.91 178.12Z" fill="#3aa63a"/>
<path d="M370.00 174.32L372.09 178.12L367.91 178.12Z" fill="#3aa63a"/>
<path d="M380.00 174.32L382.09 178.12L377.91 178.12Z" fill="#3aa63a"/>
<path d="M390.00 174.32L392.09 178.12L387.91 178.12Z" fill="#3aa63a"/>
<path d="M400.00 174.32L402.09 178.12L397.91 178.12Z" fill="#3aa63a"/>
<path d="M410.00 174.32L412.09 178.12L407.91 178.12Z" fill="#3aa63a"/>
<path d="M416.00 174.02L418.09 177.82L413.91 177.82Z" fill="#3aa63a"/>
<path d="M422.50 172.72L424.59 176.52L420.41 176.52Z" fill="#3aa63a"/>
<path d="M427.00 171.47L429.09 175.27L424.91 175.27Z" fill="#3aa63a"/>
<path d="M434.50 170.22L436.59 174.02L432.41 174.02Z" fill="#3aa63a"/>
<path d="M438.00 169.72L440.09 173.52L435.91 173.52Z" fill="#3aa63a"/>
<path d="M445.50 165.22L447.59 169.02L443.41 169.02Z" fill="#3aa63a"/>
<path d="M450.75 162.72L452.84 166.52L448.66 166.52Z" fill="#3aa63a"/>
<path d="M460.00 156.97L462.09 160.77L457.91 160.77Z" fill="#3aa63a"/>
<path d="M463.25 152.72L465.34 156.52L461.16 156.52Z" fill="#3aa63a"/>
<path d="M472.50 148.47L474.59 152.27L470.41 152.27Z" fill="#3aa63a"/>
<path d="M476.25 145.22L478.34 149.02L474.16 149.02Z" fill="#3aa63a"/>
<path d="M483.25 142.22L485.34 146.02L481.16 146.02Z" fill="#3aa63a"/>
<path d="M488.75 136.97L490.84 140.77L486.66 140.77Z" fill="#3aa63a"/>
<line x1="331.25" y1="170.70" x2="331.25" y2="171.70" stroke="#a89cd8" stroke-width="0.9"/>
<line x1="329.25" y1="170.70" x2="333.25" y2="170.70" stroke="#a89cd8" stroke-width="0.9"/>
<line x1="329.25" y1="171.70" x2="333.25" y2="171.70" stroke="#a89cd8" stroke-width="0.9"/>
<line x1="338.40" y1="169.40" x2="338.40" y2="171.40" stroke="#a89cd8" stroke-width="0.9"/>
<line x1="336.40" y1="169.40" x2="340.40" y2="169.40" stroke="#a89cd8" stroke-width="0.9"/>
<line x1="336.40" y1="171.40" x2="340.40" y2="171.40" stroke="#a89cd8" stroke-width="0.9"/>
<line x1="344.50" y1="168.40" x2="344.50" y2="170.40" stroke="#a89cd8" stroke-width="0.9"/>
<line x1="342.50" y1="168.40" x2="346.50" y2="168.40" stroke="#a89cd8" stroke-width="0.9"/>
<line x1="342.50" y1="170.40" x2="346.50" y2="170.40" stroke="#a89cd8" stroke-width="0.9"/>
<line x1="353.20" y1="167.20" x2="353.20" y2="169.20" stroke="#a89cd8" stroke-width="0.9"/>
<line x1="351.20" y1="167.20" x2="355.20" y2="167.20" stroke="#a89cd8" stroke-width="0.9"/>
<line x1="351.20" y1="169.20" x2="355.20" y2="169.20" stroke="#a89cd8" stroke-width="0.9"/>
<line x1="357.50" y1="167.50" x2="357.50" y2="170.50" stroke="#a89cd8" stroke-width="0.9"/>
<line x1="355.50" y1="167.50" x2="359.50" y2="167.50" stroke="#a89cd8" stroke-width="0.9"/>
<line x1="355.50" y1="170.50" x2="359.50" y2="170.50" stroke="#a89cd8" stroke-width="0.9"/>
<line x1="363.50" y1="162.50" x2="363.50" y2="166.50" stroke="#a89cd8" stroke-width="0.9"/>
<line x1="361.50" y1="162.50" x2="365.50" y2="162.50" stroke="#a89cd8" stroke-width="0.9"/>
<line x1="361.50" y1="166.50" x2="365.50" y2="166.50" stroke="#a89cd8" stroke-width="0.9"/>
<line x1="368.70" y1="154.80" x2="368.70" y2="160.80" stroke="#a89cd8" stroke-width="0.9"/>
<line x1="366.70" y1="154.80" x2="370.70" y2="154.80" stroke="#a89cd8" stroke-width="0.9"/>
<line x1="366.70" y1="160.80" x2="370.70" y2="160.80" stroke="#a89cd8" stroke-width="0.9"/>
<line x1="375.70" y1="148.50" x2="375.70" y2="156.50" stroke="#a89cd8" stroke-width="0.9"/>
<line x1="373.70" y1="148.50" x2="377.70" y2="148.50" stroke="#a89cd8" stroke-width="0.9"/>
<line x1="373.70" y1="156.50" x2="377.70" y2="156.50" stroke="#a89cd8" stroke-width="0.9"/>
<line x1="381.25" y1="142.50" x2="381.25" y2="152.50" stroke="#a89cd8" stroke-width="0.9"/>
<line x1="379.25" y1="142.50" x2="383.25" y2="142.50" stroke="#a89cd8" stroke-width="0.9"/>
<line x1="379.25" y1="152.50" x2="383.25" y2="152.50" stroke="#a89cd8" stroke-width="0.9"/>
<line x1="387.50" y1="129.50" x2="387.50" y2="143.50" stroke="#a89cd8" stroke-width="0.9"/>
<line x1="385.50" y1="129.50" x2="389.50" y2="129.50" stroke="#a89cd8" stroke-width="0.9"/>
<line x1="385.50" y1="143.50" x2="389.50" y2="143.50" stroke="#a89cd8" stroke-width="0.9"/>
<line x1="393.75" y1="120.00" x2="393.75" y2="134.00" stroke="#a89cd8" stroke-width="0.9"/>
<line x1="391.75" y1="120.00" x2="395.75" y2="120.00" stroke="#a89cd8" stroke-width="0.9"/>
<line x1="391.75" y1="134.00" x2="395.75" y2="134.00" stroke="#a89cd8" stroke-width="0.9"/>
<line x1="402.00" y1="102.00" x2="402.00" y2="133.00" stroke="#a89cd8" stroke-width="0.9"/>
<line x1="400.00" y1="102.00" x2="404.00" y2="102.00" stroke="#a89cd8" stroke-width="0.9"/>
<line x1="400.00" y1="133.00" x2="404.00" y2="133.00" stroke="#a89cd8" stroke-width="0.9"/>
<line x1="406.50" y1="98.25" x2="406.50" y2="113.25" stroke="#a89cd8" stroke-width="0.9"/>
<line x1="404.50" y1="98.25" x2="408.50" y2="98.25" stroke="#a89cd8" stroke-width="0.9"/>
<line x1="404.50" y1="113.25" x2="408.50" y2="113.25" stroke="#a89cd8" stroke-width="0.9"/>
<polyline points="325.75,172.50 331.25,171.20 338.40,170.40 344.50,169.40 353.20,168.20 357.50,169.00 363.50,164.50 368.70,157.80 375.70,152.50 381.25,147.50 387.50,136.50 393.75,127.00 402.00,117.50 406.50,105.75" fill="none" stroke="#8c7fcc" stroke-width="1.3" stroke-linejoin="round"/>
<path d="M325.75 170.10L327.95 174.10L323.55 174.10Z" fill="#8c7fcc"/>
<path d="M331.25 168.80L333.45 172.80L329.05 172.80Z" fill="#8c7fcc"/>
<path d="M338.40 168.00L340.60 172.00L336.20 172.00Z" fill="#8c7fcc"/>
<path d="M344.50 167.00L346.70 171.00L342.30 171.00Z" fill="#8c7fcc"/>
<path d="M353.20 165.80L355.40 169.80L351.00 169.80Z" fill="#8c7fcc"/>
<path d="M357.50 166.60L359.70 170.60L355.30 170.60Z" fill="#8c7fcc"/>
<path d="M363.50 162.10L365.70 166.10L361.30 166.10Z" fill="#8c7fcc"/>
<path d="M368.70 155.40L370.90 159.40L366.50 159.40Z" fill="#8c7fcc"/>
<path d="M375.70 150.10L377.90 154.10L373.50 154.10Z" fill="#8c7fcc"/>
<path d="M381.25 145.10L383.45 149.10L379.05 149.10Z" fill="#8c7fcc"/>
<path d="M387.50 134.10L389.70 138.10L385.30 138.10Z" fill="#8c7fcc"/>
<path d="M393.75 124.60L395.95 128.60L391.55 128.60Z" fill="#8c7fcc"/>
<path d="M402.00 115.10L404.20 119.10L399.80 119.10Z" fill="#8c7fcc"/>
<path d="M406.50 103.35L408.70 107.35L404.30 107.35Z" fill="#8c7fcc"/>
<line x1="331.25" y1="170.75" x2="331.25" y2="171.75" stroke="#3b6aa3" stroke-width="0.9"/>
<line x1="329.25" y1="170.75" x2="333.25" y2="170.75" stroke="#3b6aa3" stroke-width="0.9"/>
<line x1="329.25" y1="171.75" x2="333.25" y2="171.75" stroke="#3b6aa3" stroke-width="0.9"/>
<line x1="338.40" y1="166.80" x2="338.40" y2="168.80" stroke="#3b6aa3" stroke-width="0.9"/>
<line x1="336.40" y1="166.80" x2="340.40" y2="166.80" stroke="#3b6aa3" stroke-width="0.9"/>
<line x1="336.40" y1="168.80" x2="340.40" y2="168.80" stroke="#3b6aa3" stroke-width="0.9"/>
<line x1="350.80" y1="162.40" x2="350.80" y2="165.40" stroke="#3b6aa3" stroke-width="0.9"/>
<line x1="348.80" y1="162.40" x2="352.80" y2="162.40" stroke="#3b6aa3" stroke-width="0.9"/>
<line x1="348.80" y1="165.40" x2="352.80" y2="165.40" stroke="#3b6aa3" stroke-width="0.9"/>
<line x1="355.90" y1="157.00" x2="355.90" y2="162.00" stroke="#3b6aa3" stroke-width="0.9"/>
<line x1="353.90" y1="157.00" x2="357.90" y2="157.00" stroke="#3b6aa3" stroke-width="0.9"/>
<line x1="353.90" y1="162.00" x2="357.90" y2="162.00" stroke="#3b6aa3" stroke-width="0.9"/>
<line x1="363.30" y1="150.60" x2="363.30" y2="156.60" stroke="#3b6aa3" stroke-width="0.9"/>
<line x1="361.30" y1="150.60" x2="365.30" y2="150.60" stroke="#3b6aa3" stroke-width="0.9"/>
<line x1="361.30" y1="156.60" x2="365.30" y2="156.60" stroke="#3b6aa3" stroke-width="0.9"/>
<line x1="369.00" y1="144.75" x2="369.00" y2="152.75" stroke="#3b6aa3" stroke-width="0.9"/>
<line x1="367.00" y1="144.75" x2="371.00" y2="144.75" stroke="#3b6aa3" stroke-width="0.9"/>
<line x1="367.00" y1="152.75" x2="371.00" y2="152.75" stroke="#3b6aa3" stroke-width="0.9"/>
<line x1="376.25" y1="142.00" x2="376.25" y2="152.00" stroke="#3b6aa3" stroke-width="0.9"/>
<line x1="374.25" y1="142.00" x2="378.25" y2="142.00" stroke="#3b6aa3" stroke-width="0.9"/>
<line x1="374.25" y1="152.00" x2="378.25" y2="152.00" stroke="#3b6aa3" stroke-width="0.9"/>
<line x1="381.25" y1="132.50" x2="381.25" y2="146.50" stroke="#3b6aa3" stroke-width="0.9"/>
<line x1="379.25" y1="132.50" x2="383.25" y2="132.50" stroke="#3b6aa3" stroke-width="0.9"/>
<line x1="379.25" y1="146.50" x2="383.25" y2="146.50" stroke="#3b6aa3" stroke-width="0.9"/>
<line x1="388.75" y1="127.00" x2="388.75" y2="141.00" stroke="#3b6aa3" stroke-width="0.9"/>
<line x1="386.75" y1="127.00" x2="390.75" y2="127.00" stroke="#3b6aa3" stroke-width="0.9"/>
<line x1="386.75" y1="141.00" x2="390.75" y2="141.00" stroke="#3b6aa3" stroke-width="0.9"/>
<line x1="393.75" y1="110.20" x2="393.75" y2="126.20" stroke="#3b6aa3" stroke-width="0.9"/>
<line x1="391.75" y1="110.20" x2="395.75" y2="110.20" stroke="#3b6aa3" stroke-width="0.9"/>
<line x1="391.75" y1="126.20" x2="395.75" y2="126.20" stroke="#3b6aa3" stroke-width="0.9"/>
<line x1="401.00" y1="95.75" x2="401.00" y2="115.75" stroke="#3b6aa3" stroke-width="0.9"/>
<line x1="399.00" y1="95.75" x2="403.00" y2="95.75" stroke="#3b6aa3" stroke-width="0.9"/>
<line x1="399.00" y1="115.75" x2="403.00" y2="115.75" stroke="#3b6aa3" stroke-width="0.9"/>
<line x1="406.50" y1="70.75" x2="406.50" y2="92.75" stroke="#3b6aa3" stroke-width="0.9"/>
<line x1="404.50" y1="70.75" x2="408.50" y2="70.75" stroke="#3b6aa3" stroke-width="0.9"/>
<line x1="404.50" y1="92.75" x2="408.50" y2="92.75" stroke="#3b6aa3" stroke-width="0.9"/>
<polyline points="325.75,172.50 331.25,171.25 338.40,167.80 350.80,163.90 355.90,159.50 363.30,153.60 369.00,148.75 376.25,147.00 381.25,139.50 388.75,134.00 393.75,118.20 401.00,105.75 406.50,81.75" fill="none" stroke="#1b4d87" stroke-width="1.3" stroke-linejoin="round"/>
<path d="M325.75 170.50L327.75 172.50L325.75 174.50L323.75 172.50Z" fill="#1b4d87"/>
<path d="M331.25 169.25L333.25 171.25L331.25 173.25L329.25 171.25Z" fill="#1b4d87"/>
<path d="M338.40 165.80L340.40 167.80L338.40 169.80L336.40 167.80Z" fill="#1b4d87"/>
<path d="M350.80 161.90L352.80 163.90L350.80 165.90L348.80 163.90Z" fill="#1b4d87"/>
<path d="M355.90 157.50L357.90 159.50L355.90 161.50L353.90 159.50Z" fill="#1b4d87"/>
<path d="M363.30 151.60L365.30 153.60L363.30 155.60L361.30 153.60Z" fill="#1b4d87"/>
<path d="M369.00 146.75L371.00 148.75L369.00 150.75L367.00 148.75Z" fill="#1b4d87"/>
<path d="M376.25 145.00L378.25 147.00L376.25 149.00L374.25 147.00Z" fill="#1b4d87"/>
<path d="M381.25 137.50L383.25 139.50L381.25 141.50L379.25 139.50Z" fill="#1b4d87"/>
<path d="M388.75 132.00L390.75 134.00L388.75 136.00L386.75 134.00Z" fill="#1b4d87"/>
<path d="M393.75 116.20L395.75 118.20L393.75 120.20L391.75 118.20Z" fill="#1b4d87"/>
<path d="M401.00 103.75L403.00 105.75L401.00 107.75L399.00 105.75Z" fill="#1b4d87"/>
<path d="M406.50 79.75L408.50 81.75L406.50 83.75L404.50 81.75Z" fill="#1b4d87"/>
<text x="124.73" y="237.50" font-size="10.2" textLength="57.64" lengthAdjust="spacingAndGlyphs">RS4;11 (ALL)</text>
<text x="127.49" y="249.25" font-size="10.2" textLength="52.95" lengthAdjust="spacingAndGlyphs">CB17-SCID</text>
<line x1="75.20" y1="259.30" x2="82.40" y2="259.30" stroke="#1b4d87" stroke-width="1.2"/>
<path d="M78.80 257.10L81.00 259.30L78.80 261.50L76.60 259.30Z" fill="#1b4d87"/>
<text x="85.00" y="261.90" font-size="7.9" textLength="38.80" lengthAdjust="spacingAndGlyphs">Vehicle, SD</text>
<line x1="75.20" y1="268.10" x2="82.40" y2="268.10" stroke="#3dab3d" stroke-width="1.2"/>
<path d="M78.80 265.90L81.00 268.10L78.80 270.30L76.60 268.10Z" fill="#3dab3d"/>
<text x="85.00" y="270.70" font-size="7.9" textLength="87.00" lengthAdjust="spacingAndGlyphs">ABBV-319 1.5 mg/kg, SD</text>
<text x="34.60" y="368.50" font-size="10.4" textLength="76" lengthAdjust="spacingAndGlyphs" transform="rotate(-90 34.60 368.50)">Tumor volume (mm<tspan font-size="6.6" dy="-4.0">3</tspan><tspan dy="4.0">)</tspan></text>
<line x1="64.30" y1="279.60" x2="64.30" y2="380.90" stroke="#231f20" stroke-width="1.4"/>
<line x1="60.50" y1="380.90" x2="64.30" y2="380.90" stroke="#231f20" stroke-width="1.4"/>
<text x="57.50" y="383.90" font-size="8.4" text-anchor="end" textLength="3.90" lengthAdjust="spacingAndGlyphs">0</text>
<line x1="60.50" y1="355.75" x2="64.30" y2="355.75" stroke="#231f20" stroke-width="1.4"/>
<text x="57.50" y="358.75" font-size="8.4" text-anchor="end" textLength="12.20" lengthAdjust="spacingAndGlyphs">500</text>
<line x1="60.50" y1="330.60" x2="64.30" y2="330.60" stroke="#231f20" stroke-width="1.4"/>
<text x="57.50" y="333.60" font-size="8.4" text-anchor="end" textLength="16.20" lengthAdjust="spacingAndGlyphs">1000</text>
<line x1="60.50" y1="305.45" x2="64.30" y2="305.45" stroke="#231f20" stroke-width="1.4"/>
<text x="57.50" y="308.45" font-size="8.4" text-anchor="end" textLength="16.20" lengthAdjust="spacingAndGlyphs">1500</text>
<line x1="60.50" y1="280.30" x2="64.30" y2="280.30" stroke="#231f20" stroke-width="1.4"/>
<text x="57.50" y="283.30" font-size="8.4" text-anchor="end" textLength="16.30" lengthAdjust="spacingAndGlyphs">2000</text>
<line x1="64.30" y1="380.90" x2="246.30" y2="380.90" stroke="#231f20" stroke-width="1.4"/>
<line x1="64.30" y1="380.90" x2="64.30" y2="384.50" stroke="#231f20" stroke-width="1.4"/>
<text x="62.35" y="394.20" font-size="8.4" textLength="3.90" lengthAdjust="spacingAndGlyphs">0</text>
<line x1="100.10" y1="380.90" x2="100.10" y2="384.50" stroke="#231f20" stroke-width="1.4"/>
<text x="96.10" y="394.20" font-size="8.4" textLength="8.00" lengthAdjust="spacingAndGlyphs">20</text>
<line x1="135.90" y1="380.90" x2="135.90" y2="384.50" stroke="#231f20" stroke-width="1.4"/>
<text x="131.90" y="394.20" font-size="8.4" textLength="8.00" lengthAdjust="spacingAndGlyphs">40</text>
<line x1="171.70" y1="380.90" x2="171.70" y2="384.50" stroke="#231f20" stroke-width="1.4"/>
<text x="167.70" y="394.20" font-size="8.4" textLength="8.00" lengthAdjust="spacingAndGlyphs">60</text>
<line x1="207.50" y1="380.90" x2="207.50" y2="384.50" stroke="#231f20" stroke-width="1.4"/>
<text x="203.50" y="394.20" font-size="8.4" textLength="8.00" lengthAdjust="spacingAndGlyphs">80</text>
<line x1="243.30" y1="380.90" x2="243.30" y2="384.50" stroke="#231f20" stroke-width="1.4"/>
<text x="237.30" y="394.20" font-size="8.4" textLength="12.00" lengthAdjust="spacingAndGlyphs">100</text>
<text x="110.50" y="408.20" font-size="10.0" textLength="88.60" lengthAdjust="spacingAndGlyphs">Days from randomization</text>
<line x1="170.00" y1="378.75" x2="170.00" y2="379.75" stroke="#7cc67c" stroke-width="0.9"/>
<line x1="168.00" y1="378.75" x2="172.00" y2="378.75" stroke="#7cc67c" stroke-width="0.9"/>
<line x1="168.00" y1="379.75" x2="172.00" y2="379.75" stroke="#7cc67c" stroke-width="0.9"/>
<line x1="173.25" y1="377.50" x2="173.25" y2="379.50" stroke="#7cc67c" stroke-width="0.9"/>
<line x1="171.25" y1="377.50" x2="175.25" y2="377.50" stroke="#7cc67c" stroke-width="0.9"/>
<line x1="171.25" y1="379.50" x2="175.25" y2="379.50" stroke="#7cc67c" stroke-width="0.9"/>
<line x1="180.50" y1="374.75" x2="180.50" y2="377.75" stroke="#7cc67c" stroke-width="0.9"/>
<line x1="178.50" y1="374.75" x2="182.50" y2="374.75" stroke="#7cc67c" stroke-width="0.9"/>
<line x1="178.50" y1="377.75" x2="182.50" y2="377.75" stroke="#7cc67c" stroke-width="0.9"/>
<line x1="185.75" y1="370.75" x2="185.75" y2="376.75" stroke="#7cc67c" stroke-width="0.9"/>
<line x1="183.75" y1="370.75" x2="187.75" y2="370.75" stroke="#7cc67c" stroke-width="0.9"/>
<line x1="183.75" y1="376.75" x2="187.75" y2="376.75" stroke="#7cc67c" stroke-width="0.9"/>
<line x1="193.00" y1="359.75" x2="193.00" y2="373.75" stroke="#7cc67c" stroke-width="0.9"/>
<line x1="191.00" y1="359.75" x2="195.00" y2="359.75" stroke="#7cc67c" stroke-width="0.9"/>
<line x1="191.00" y1="373.75" x2="195.00" y2="373.75" stroke="#7cc67c" stroke-width="0.9"/>
<line x1="198.25" y1="351.25" x2="198.25" y2="372.25" stroke="#7cc67c" stroke-width="0.9"/>
<line x1="196.25" y1="351.25" x2="200.25" y2="351.25" stroke="#7cc67c" stroke-width="0.9"/>
<line x1="196.25" y1="372.25" x2="200.25" y2="372.25" stroke="#7cc67c" stroke-width="0.9"/>
<line x1="207.00" y1="335.25" x2="207.00" y2="363.25" stroke="#7cc67c" stroke-width="0.9"/>
<line x1="205.00" y1="335.25" x2="209.00" y2="335.25" stroke="#7cc67c" stroke-width="0.9"/>
<line x1="205.00" y1="363.25" x2="209.00" y2="363.25" stroke="#7cc67c" stroke-width="0.9"/>
<line x1="210.75" y1="329.00" x2="210.75" y2="360.00" stroke="#7cc67c" stroke-width="0.9"/>
<line x1="208.75" y1="329.00" x2="212.75" y2="329.00" stroke="#7cc67c" stroke-width="0.9"/>
<line x1="208.75" y1="360.00" x2="212.75" y2="360.00" stroke="#7cc67c" stroke-width="0.9"/>
<line x1="219.50" y1="319.50" x2="219.50" y2="349.50" stroke="#7cc67c" stroke-width="0.9"/>
<line x1="217.50" y1="319.50" x2="221.50" y2="319.50" stroke="#7cc67c" stroke-width="0.9"/>
<line x1="217.50" y1="349.50" x2="221.50" y2="349.50" stroke="#7cc67c" stroke-width="0.9"/>
<line x1="223.25" y1="315.00" x2="223.25" y2="345.00" stroke="#7cc67c" stroke-width="0.9"/>
<line x1="221.25" y1="315.00" x2="225.25" y2="315.00" stroke="#7cc67c" stroke-width="0.9"/>
<line x1="221.25" y1="345.00" x2="225.25" y2="345.00" stroke="#7cc67c" stroke-width="0.9"/>
<path d="M64.25 379.80C65.62 379.93 69.96 380.47 72.50 380.60C75.04 380.73 77.33 380.60 79.50 380.60C81.67 380.60 83.42 380.60 85.50 380.60C87.58 380.60 89.79 380.60 92.00 380.60C94.21 380.60 96.67 380.60 98.75 380.60C100.83 380.60 102.54 380.60 104.50 380.60C106.46 380.60 108.42 380.60 110.50 380.60C112.58 380.60 114.92 380.60 117.00 380.60C119.08 380.60 120.92 380.60 123.00 380.60C125.08 380.60 127.33 380.60 129.50 380.60C131.67 380.60 133.83 380.60 136.00 380.60C138.17 380.60 140.38 380.60 142.50 380.60C144.62 380.60 146.58 380.60 148.75 380.60C150.92 380.60 153.42 380.60 155.50 380.60C157.58 380.60 158.83 380.83 161.25 380.60C163.67 380.38 168.00 379.60 170.00 379.25C172.00 378.90 171.50 379.00 173.25 378.50C175.00 378.00 178.42 377.04 180.50 376.25C182.58 375.46 183.67 375.33 185.75 373.75C187.83 372.17 190.92 368.75 193.00 366.75C195.08 364.75 195.92 364.67 198.25 361.75C200.58 358.83 204.92 352.12 207.00 349.25C209.08 346.38 208.67 346.96 210.75 344.50C212.83 342.04 217.42 336.92 219.50 334.50C221.58 332.08 222.62 330.75 223.25 330.00" fill="none" stroke="#3dab3d" stroke-width="1.3" stroke-linejoin="round"/>
<circle cx="64.25" cy="379.80" r="2.20" fill="#3dab3d"/>
<circle cx="72.50" cy="380.60" r="2.20" fill="#3dab3d"/>
<circle cx="79.50" cy="380.60" r="2.20" fill="#3dab3d"/>
<circle cx="85.50" cy="380.60" r="2.20" fill="#3dab3d"/>
<circle cx="92.00" cy="380.60" r="2.20" fill="#3dab3d"/>
<circle cx="98.75" cy="380.60" r="2.20" fill="#3dab3d"/>
<circle cx="104.50" cy="380.60" r="2.20" fill="#3dab3d"/>
<circle cx="110.50" cy="380.60" r="2.20" fill="#3dab3d"/>
<circle cx="117.00" cy="380.60" r="2.20" fill="#3dab3d"/>
<circle cx="123.00" cy="380.60" r="2.20" fill="#3dab3d"/>
<circle cx="129.50" cy="380.60" r="2.20" fill="#3dab3d"/>
<circle cx="136.00" cy="380.60" r="2.20" fill="#3dab3d"/>
<circle cx="142.50" cy="380.60" r="2.20" fill="#3dab3d"/>
<circle cx="148.75" cy="380.60" r="2.20" fill="#3dab3d"/>
<circle cx="155.50" cy="380.60" r="2.20" fill="#3dab3d"/>
<circle cx="161.25" cy="380.60" r="2.20" fill="#3dab3d"/>
<circle cx="170.00" cy="379.25" r="2.20" fill="#3dab3d"/>
<circle cx="173.25" cy="378.50" r="2.20" fill="#3dab3d"/>
<circle cx="180.50" cy="376.25" r="2.20" fill="#3dab3d"/>
<circle cx="185.75" cy="373.75" r="2.20" fill="#3dab3d"/>
<circle cx="193.00" cy="366.75" r="2.20" fill="#3dab3d"/>
<circle cx="198.25" cy="361.75" r="2.20" fill="#3dab3d"/>
<circle cx="207.00" cy="349.25" r="2.20" fill="#3dab3d"/>
<circle cx="210.75" cy="344.50" r="2.20" fill="#3dab3d"/>
<circle cx="219.50" cy="334.50" r="2.20" fill="#3dab3d"/>
<circle cx="223.25" cy="330.00" r="2.20" fill="#3dab3d"/>
<line x1="71.25" y1="374.50" x2="71.25" y2="375.50" stroke="#3b6aa3" stroke-width="0.9"/>
<line x1="69.25" y1="374.50" x2="73.25" y2="374.50" stroke="#3b6aa3" stroke-width="0.9"/>
<line x1="69.25" y1="375.50" x2="73.25" y2="375.50" stroke="#3b6aa3" stroke-width="0.9"/>
<line x1="76.25" y1="372.00" x2="76.25" y2="374.00" stroke="#3b6aa3" stroke-width="0.9"/>
<line x1="74.25" y1="372.00" x2="78.25" y2="372.00" stroke="#3b6aa3" stroke-width="0.9"/>
<line x1="74.25" y1="374.00" x2="78.25" y2="374.00" stroke="#3b6aa3" stroke-width="0.9"/>
<line x1="83.25" y1="361.20" x2="83.25" y2="364.20" stroke="#3b6aa3" stroke-width="0.9"/>
<line x1="81.25" y1="361.20" x2="85.25" y2="361.20" stroke="#3b6aa3" stroke-width="0.9"/>
<line x1="81.25" y1="364.20" x2="85.25" y2="364.20" stroke="#3b6aa3" stroke-width="0.9"/>
<line x1="89.25" y1="347.30" x2="89.25" y2="354.30" stroke="#3b6aa3" stroke-width="0.9"/>
<line x1="87.25" y1="347.30" x2="91.25" y2="347.30" stroke="#3b6aa3" stroke-width="0.9"/>
<line x1="87.25" y1="354.30" x2="91.25" y2="354.30" stroke="#3b6aa3" stroke-width="0.9"/>
<line x1="96.25" y1="321.50" x2="96.25" y2="329.50" stroke="#3b6aa3" stroke-width="0.9"/>
<line x1="94.25" y1="321.50" x2="98.25" y2="321.50" stroke="#3b6aa3" stroke-width="0.9"/>
<line x1="94.25" y1="329.50" x2="98.25" y2="329.50" stroke="#3b6aa3" stroke-width="0.9"/>
<line x1="101.75" y1="294.50" x2="101.75" y2="310.50" stroke="#3b6aa3" stroke-width="0.9"/>
<line x1="99.75" y1="294.50" x2="103.75" y2="294.50" stroke="#3b6aa3" stroke-width="0.9"/>
<line x1="99.75" y1="310.50" x2="103.75" y2="310.50" stroke="#3b6aa3" stroke-width="0.9"/>
<path d="M64.25 376.75C65.42 376.46 69.25 375.62 71.25 375.00C73.25 374.38 74.25 375.05 76.25 373.00C78.25 370.95 81.08 366.40 83.25 362.70C85.42 359.00 87.08 357.00 89.25 350.80C91.42 344.60 94.17 333.55 96.25 325.50C98.33 317.45 100.83 306.33 101.75 302.50" fill="none" stroke="#1b4d87" stroke-width="1.3" stroke-linejoin="round"/>
<circle cx="64.25" cy="376.75" r="1.80" fill="#1b4d87"/>
<circle cx="71.25" cy="375.00" r="1.80" fill="#1b4d87"/>
<circle cx="76.25" cy="373.00" r="1.80" fill="#1b4d87"/>
<circle cx="83.25" cy="362.70" r="1.80" fill="#1b4d87"/>
<circle cx="89.25" cy="350.80" r="1.80" fill="#1b4d87"/>
<circle cx="96.25" cy="325.50" r="1.80" fill="#1b4d87"/>
<circle cx="101.75" cy="302.50" r="1.80" fill="#1b4d87"/>
<text x="387.97" y="237.50" font-size="10.2" textLength="58.15" lengthAdjust="spacingAndGlyphs">RS4;11 (ALL)</text>
<text x="390.76" y="248.90" font-size="10.2" textLength="51.68" lengthAdjust="spacingAndGlyphs">CB17-SCID</text>
<text x="302.00" y="366.70" font-size="10.4" textLength="76" lengthAdjust="spacingAndGlyphs" transform="rotate(-90 302.00 366.70)">Tumor volume (mm<tspan font-size="6.6" dy="-4.0">3</tspan><tspan dy="4.0">)</tspan></text>
<line x1="327.30" y1="279.60" x2="327.30" y2="380.90" stroke="#231f20" stroke-width="1.4"/>
<line x1="323.50" y1="380.90" x2="327.30" y2="380.90" stroke="#231f20" stroke-width="1.4"/>
<text x="321.50" y="383.90" font-size="8.4" text-anchor="end" textLength="3.90" lengthAdjust="spacingAndGlyphs">0</text>
<line x1="323.50" y1="355.76" x2="327.30" y2="355.76" stroke="#231f20" stroke-width="1.4"/>
<text x="321.50" y="358.76" font-size="8.4" text-anchor="end" textLength="12.20" lengthAdjust="spacingAndGlyphs">200</text>
<line x1="323.50" y1="330.62" x2="327.30" y2="330.62" stroke="#231f20" stroke-width="1.4"/>
<text x="321.50" y="333.62" font-size="8.4" text-anchor="end" textLength="12.20" lengthAdjust="spacingAndGlyphs">400</text>
<line x1="323.50" y1="305.48" x2="327.30" y2="305.48" stroke="#231f20" stroke-width="1.4"/>
<text x="321.50" y="308.48" font-size="8.4" text-anchor="end" textLength="12.20" lengthAdjust="spacingAndGlyphs">600</text>
<line x1="323.50" y1="280.34" x2="327.30" y2="280.34" stroke="#231f20" stroke-width="1.4"/>
<text x="321.50" y="283.34" font-size="8.4" text-anchor="end" textLength="12.20" lengthAdjust="spacingAndGlyphs">800</text>
<line x1="327.30" y1="380.90" x2="508.80" y2="380.90" stroke="#231f20" stroke-width="1.4"/>
<line x1="327.30" y1="380.90" x2="327.30" y2="384.50" stroke="#231f20" stroke-width="1.4"/>
<text x="325.35" y="394.20" font-size="8.4" textLength="3.90" lengthAdjust="spacingAndGlyphs">0</text>
<line x1="363.10" y1="380.90" x2="363.10" y2="384.50" stroke="#231f20" stroke-width="1.4"/>
<text x="359.10" y="394.20" font-size="8.4" textLength="8.00" lengthAdjust="spacingAndGlyphs">20</text>
<line x1="398.90" y1="380.90" x2="398.90" y2="384.50" stroke="#231f20" stroke-width="1.4"/>
<text x="394.90" y="394.20" font-size="8.4" textLength="8.00" lengthAdjust="spacingAndGlyphs">40</text>
<line x1="434.70" y1="380.90" x2="434.70" y2="384.50" stroke="#231f20" stroke-width="1.4"/>
<text x="430.70" y="394.20" font-size="8.4" textLength="8.00" lengthAdjust="spacingAndGlyphs">60</text>
<line x1="470.50" y1="380.90" x2="470.50" y2="384.50" stroke="#231f20" stroke-width="1.4"/>
<text x="466.50" y="394.20" font-size="8.4" textLength="8.00" lengthAdjust="spacingAndGlyphs">80</text>
<line x1="506.30" y1="380.90" x2="506.30" y2="384.50" stroke="#231f20" stroke-width="1.4"/>
<text x="500.30" y="394.20" font-size="8.4" textLength="12.00" lengthAdjust="spacingAndGlyphs">100</text>
<text x="381.20" y="408.40" font-size="10.0" textLength="75.00" lengthAdjust="spacingAndGlyphs">Days post inoculation</text>
<line x1="404.50" y1="281.00" x2="404.50" y2="380.50" stroke="#6a6a7a" stroke-width="0.8" stroke-dasharray="1 1.3"/>
<line x1="405.00" y1="287.70" x2="500.00" y2="287.70" stroke="#4a4a4a" stroke-width="1.6"/>
<line x1="405.60" y1="284.60" x2="405.60" y2="290.80" stroke="#4a4a4a" stroke-width="1.2"/>
<line x1="499.60" y1="284.40" x2="499.60" y2="291.00" stroke="#4a4a4a" stroke-width="1.3"/>
<text x="411.30" y="281.40" font-size="8.4" textLength="86.20" lengthAdjust="spacingAndGlyphs">ABBV-319, 10 mg/kg, SD</text>
<line x1="348.75" y1="378.25" x2="348.75" y2="379.25" stroke="#7cc67c" stroke-width="0.9"/>
<line x1="346.75" y1="378.25" x2="350.75" y2="378.25" stroke="#7cc67c" stroke-width="0.9"/>
<line x1="346.75" y1="379.25" x2="350.75" y2="379.25" stroke="#7cc67c" stroke-width="0.9"/>
<line x1="353.75" y1="377.50" x2="353.75" y2="378.50" stroke="#7cc67c" stroke-width="0.9"/>
<line x1="351.75" y1="377.50" x2="355.75" y2="377.50" stroke="#7cc67c" stroke-width="0.9"/>
<line x1="351.75" y1="378.50" x2="355.75" y2="378.50" stroke="#7cc67c" stroke-width="0.9"/>
<line x1="361.25" y1="375.25" x2="361.25" y2="377.25" stroke="#7cc67c" stroke-width="0.9"/>
<line x1="359.25" y1="375.25" x2="363.25" y2="375.25" stroke="#7cc67c" stroke-width="0.9"/>
<line x1="359.25" y1="377.25" x2="363.25" y2="377.25" stroke="#7cc67c" stroke-width="0.9"/>
<line x1="367.00" y1="374.00" x2="367.00" y2="376.00" stroke="#7cc67c" stroke-width="0.9"/>
<line x1="365.00" y1="374.00" x2="369.00" y2="374.00" stroke="#7cc67c" stroke-width="0.9"/>
<line x1="365.00" y1="376.00" x2="369.00" y2="376.00" stroke="#7cc67c" stroke-width="0.9"/>
<line x1="375.00" y1="371.50" x2="375.00" y2="374.50" stroke="#7cc67c" stroke-width="0.9"/>
<line x1="373.00" y1="371.50" x2="377.00" y2="371.50" stroke="#7cc67c" stroke-width="0.9"/>
<line x1="373.00" y1="374.50" x2="377.00" y2="374.50" stroke="#7cc67c" stroke-width="0.9"/>
<line x1="379.50" y1="369.00" x2="379.50" y2="372.00" stroke="#7cc67c" stroke-width="0.9"/>
<line x1="377.50" y1="369.00" x2="381.50" y2="369.00" stroke="#7cc67c" stroke-width="0.9"/>
<line x1="377.50" y1="372.00" x2="381.50" y2="372.00" stroke="#7cc67c" stroke-width="0.9"/>
<line x1="386.50" y1="363.00" x2="386.50" y2="367.00" stroke="#7cc67c" stroke-width="0.9"/>
<line x1="384.50" y1="363.00" x2="388.50" y2="363.00" stroke="#7cc67c" stroke-width="0.9"/>
<line x1="384.50" y1="367.00" x2="388.50" y2="367.00" stroke="#7cc67c" stroke-width="0.9"/>
<line x1="392.00" y1="352.30" x2="392.00" y2="357.30" stroke="#7cc67c" stroke-width="0.9"/>
<line x1="390.00" y1="352.30" x2="394.00" y2="352.30" stroke="#7cc67c" stroke-width="0.9"/>
<line x1="390.00" y1="357.30" x2="394.00" y2="357.30" stroke="#7cc67c" stroke-width="0.9"/>
<line x1="399.25" y1="331.00" x2="399.25" y2="338.00" stroke="#7cc67c" stroke-width="0.9"/>
<line x1="397.25" y1="331.00" x2="401.25" y2="331.00" stroke="#7cc67c" stroke-width="0.9"/>
<line x1="397.25" y1="338.00" x2="401.25" y2="338.00" stroke="#7cc67c" stroke-width="0.9"/>
<line x1="404.50" y1="292.50" x2="404.50" y2="302.50" stroke="#7cc67c" stroke-width="0.9"/>
<line x1="402.50" y1="292.50" x2="406.50" y2="292.50" stroke="#7cc67c" stroke-width="0.9"/>
<line x1="402.50" y1="302.50" x2="406.50" y2="302.50" stroke="#7cc67c" stroke-width="0.9"/>
<polyline points="327.50,381.00 337.00,381.00 348.75,378.75 353.75,378.00 361.25,376.25 367.00,375.00 375.00,373.00 379.50,370.50 386.50,365.00 392.00,354.80 399.25,334.50 404.50,297.50 411.50,368.75 417.20,379.50 426.25,381.00 428.75,381.00 436.25,381.00 449.25,381.00 461.75,381.00 474.25,381.00 486.25,381.00" fill="none" stroke="#45ad45" stroke-width="1.1" stroke-linejoin="round"/>
<rect x="325.60" y="379.10" width="3.80" height="3.80" fill="none" stroke="#45ad45" stroke-width="0.8"/>
<rect x="335.10" y="379.10" width="3.80" height="3.80" fill="none" stroke="#45ad45" stroke-width="0.8"/>
<rect x="346.85" y="376.85" width="3.80" height="3.80" fill="none" stroke="#45ad45" stroke-width="0.8"/>
<rect x="351.85" y="376.10" width="3.80" height="3.80" fill="none" stroke="#45ad45" stroke-width="0.8"/>
<rect x="359.35" y="374.35" width="3.80" height="3.80" fill="none" stroke="#45ad45" stroke-width="0.8"/>
<rect x="365.10" y="373.10" width="3.80" height="3.80" fill="none" stroke="#45ad45" stroke-width="0.8"/>
<rect x="373.10" y="371.10" width="3.80" height="3.80" fill="none" stroke="#45ad45" stroke-width="0.8"/>
<rect x="377.60" y="368.60" width="3.80" height="3.80" fill="none" stroke="#45ad45" stroke-width="0.8"/>
<rect x="384.60" y="363.10" width="3.80" height="3.80" fill="none" stroke="#45ad45" stroke-width="0.8"/>
<rect x="390.10" y="352.90" width="3.80" height="3.80" fill="none" stroke="#45ad45" stroke-width="0.8"/>
<rect x="397.35" y="332.60" width="3.80" height="3.80" fill="none" stroke="#45ad45" stroke-width="0.8"/>
<rect x="402.60" y="295.60" width="3.80" height="3.80" fill="#45ad45"/>
<rect x="409.60" y="366.85" width="3.80" height="3.80" fill="#45ad45"/>
<rect x="415.30" y="377.60" width="3.80" height="3.80" fill="#45ad45"/>
<rect x="424.35" y="379.10" width="3.80" height="3.80" fill="#45ad45"/>
<rect x="426.85" y="379.10" width="3.80" height="3.80" fill="#45ad45"/>
<rect x="434.35" y="379.10" width="3.80" height="3.80" fill="#45ad45"/>
<rect x="447.35" y="379.10" width="3.80" height="3.80" fill="#45ad45"/>
<rect x="459.85" y="379.10" width="3.80" height="3.80" fill="#45ad45"/>
<rect x="472.35" y="379.10" width="3.80" height="3.80" fill="#45ad45"/>
<rect x="484.35" y="379.10" width="3.80" height="3.80" fill="#45ad45"/>
<text x="111.81" y="441.50" font-size="10.2" textLength="84.18" lengthAdjust="spacingAndGlyphs">OCI-LY19 (DLBCL)</text>
<text x="127.80" y="453.20" font-size="10.2" textLength="52.03" lengthAdjust="spacingAndGlyphs">CB17-SCID</text>
<circle cx="126.10" cy="465.50" r="1.30" fill="#1b4d87"/>
<text x="130.80" y="468.30" font-size="7.9" textLength="39.20" lengthAdjust="spacingAndGlyphs">Vehicle, SD</text>
<circle cx="126.10" cy="473.20" r="1.30" fill="#8c7fcc"/>
<text x="130.80" y="476.00" font-size="7.9" textLength="121.50" lengthAdjust="spacingAndGlyphs">Prednisolone, 50 mg/kg, (QD×5)×3</text>
<rect x="124.30" y="479.20" width="3.60" height="3.60" fill="#6d3f15"/>
<text x="130.80" y="483.80" font-size="7.9" textLength="93.80" lengthAdjust="spacingAndGlyphs">GRM, 10 mg/kg, (QD×5)×3</text>
<rect x="124.30" y="487.40" width="3.60" height="3.60" fill="#35a0dc"/>
<text x="130.80" y="492.00" font-size="7.9" textLength="97.80" lengthAdjust="spacingAndGlyphs">Af. CD19 mAb, 10 mg/kg, SD</text>
<circle cx="126.10" cy="497.40" r="1.90" fill="#c4c4c4"/>
<text x="130.80" y="500.20" font-size="7.9" textLength="94.70" lengthAdjust="spacingAndGlyphs">Isotype-GRM 10 mg/kg, SD</text>
<circle cx="126.10" cy="505.60" r="1.90" fill="#dbe7d0"/>
<text x="130.80" y="508.40" font-size="7.9" textLength="80.00" lengthAdjust="spacingAndGlyphs">ABBV-319 1 mg/kg, SD</text>
<circle cx="126.10" cy="513.80" r="1.60" fill="#9fd092"/>
<text x="130.80" y="516.60" font-size="7.9" textLength="80.00" lengthAdjust="spacingAndGlyphs">ABBV-319 3 mg/kg, SD</text>
<rect x="124.30" y="520.00" width="3.60" height="3.60" fill="#3aa63a"/>
<text x="130.80" y="524.60" font-size="7.9" textLength="82.40" lengthAdjust="spacingAndGlyphs">ABBV-319 10 mg/kg, SD</text>
<text x="34.40" y="576.50" font-size="10.4" textLength="76" lengthAdjust="spacingAndGlyphs" transform="rotate(-90 34.40 576.50)">Tumor volume (mm<tspan font-size="6.6" dy="-4.0">3</tspan><tspan dy="4.0">)</tspan></text>
<line x1="64.50" y1="478.00" x2="64.50" y2="600.60" stroke="#231f20" stroke-width="1.4"/>
<line x1="60.70" y1="600.60" x2="64.50" y2="600.60" stroke="#231f20" stroke-width="1.4"/>
<text x="56.60" y="603.60" font-size="8.4" text-anchor="end" textLength="3.90" lengthAdjust="spacingAndGlyphs">0</text>
<line x1="60.70" y1="570.60" x2="64.50" y2="570.60" stroke="#231f20" stroke-width="1.4"/>
<text x="56.60" y="573.60" font-size="8.4" text-anchor="end" textLength="12.20" lengthAdjust="spacingAndGlyphs">500</text>
<line x1="60.70" y1="540.60" x2="64.50" y2="540.60" stroke="#231f20" stroke-width="1.4"/>
<text x="56.60" y="543.60" font-size="8.4" text-anchor="end" textLength="16.20" lengthAdjust="spacingAndGlyphs">1000</text>
<line x1="60.70" y1="510.60" x2="64.50" y2="510.60" stroke="#231f20" stroke-width="1.4"/>
<text x="56.60" y="513.60" font-size="8.4" text-anchor="end" textLength="16.20" lengthAdjust="spacingAndGlyphs">1500</text>
<line x1="60.70" y1="480.60" x2="64.50" y2="480.60" stroke="#231f20" stroke-width="1.4"/>
<text x="56.60" y="483.60" font-size="8.4" text-anchor="end" textLength="16.30" lengthAdjust="spacingAndGlyphs">2000</text>
<line x1="64.50" y1="600.60" x2="246.30" y2="600.60" stroke="#231f20" stroke-width="1.4"/>
<line x1="64.50" y1="600.60" x2="64.50" y2="604.20" stroke="#231f20" stroke-width="1.4"/>
<text x="62.55" y="614.00" font-size="8.4" textLength="3.90" lengthAdjust="spacingAndGlyphs">0</text>
<line x1="94.25" y1="600.60" x2="94.25" y2="604.20" stroke="#231f20" stroke-width="1.4"/>
<text x="90.25" y="614.00" font-size="8.4" textLength="8.00" lengthAdjust="spacingAndGlyphs">10</text>
<line x1="124.00" y1="600.60" x2="124.00" y2="604.20" stroke="#231f20" stroke-width="1.4"/>
<text x="120.00" y="614.00" font-size="8.4" textLength="8.00" lengthAdjust="spacingAndGlyphs">20</text>
<line x1="153.75" y1="600.60" x2="153.75" y2="604.20" stroke="#231f20" stroke-width="1.4"/>
<text x="149.75" y="614.00" font-size="8.4" textLength="8.00" lengthAdjust="spacingAndGlyphs">30</text>
<line x1="183.50" y1="600.60" x2="183.50" y2="604.20" stroke="#231f20" stroke-width="1.4"/>
<text x="179.50" y="614.00" font-size="8.4" textLength="8.00" lengthAdjust="spacingAndGlyphs">40</text>
<line x1="213.25" y1="600.60" x2="213.25" y2="604.20" stroke="#231f20" stroke-width="1.4"/>
<text x="209.25" y="614.00" font-size="8.4" textLength="8.00" lengthAdjust="spacingAndGlyphs">50</text>
<line x1="243.00" y1="600.60" x2="243.00" y2="604.20" stroke="#231f20" stroke-width="1.4"/>
<text x="239.00" y="614.00" font-size="8.4" textLength="8.00" lengthAdjust="spacingAndGlyphs">60</text>
<text x="111.20" y="628.20" font-size="10.0" textLength="88.60" lengthAdjust="spacingAndGlyphs">Days from randomization</text>
<line x1="76.40" y1="586.00" x2="76.40" y2="588.00" stroke="#e2ecd9" stroke-width="0.9"/>
<line x1="74.40" y1="586.00" x2="78.40" y2="586.00" stroke="#e2ecd9" stroke-width="0.9"/>
<line x1="74.40" y1="588.00" x2="78.40" y2="588.00" stroke="#e2ecd9" stroke-width="0.9"/>
<line x1="85.60" y1="582.00" x2="85.60" y2="586.00" stroke="#e2ecd9" stroke-width="0.9"/>
<line x1="83.60" y1="582.00" x2="87.60" y2="582.00" stroke="#e2ecd9" stroke-width="0.9"/>
<line x1="83.60" y1="586.00" x2="87.60" y2="586.00" stroke="#e2ecd9" stroke-width="0.9"/>
<line x1="100.40" y1="574.50" x2="100.40" y2="580.50" stroke="#e2ecd9" stroke-width="0.9"/>
<line x1="98.40" y1="574.50" x2="102.40" y2="574.50" stroke="#e2ecd9" stroke-width="0.9"/>
<line x1="98.40" y1="580.50" x2="102.40" y2="580.50" stroke="#e2ecd9" stroke-width="0.9"/>
<line x1="109.50" y1="565.00" x2="109.50" y2="575.00" stroke="#e2ecd9" stroke-width="0.9"/>
<line x1="107.50" y1="565.00" x2="111.50" y2="565.00" stroke="#e2ecd9" stroke-width="0.9"/>
<line x1="107.50" y1="575.00" x2="111.50" y2="575.00" stroke="#e2ecd9" stroke-width="0.9"/>
<line x1="118.20" y1="554.00" x2="118.20" y2="570.00" stroke="#e2ecd9" stroke-width="0.9"/>
<line x1="116.20" y1="554.00" x2="120.20" y2="554.00" stroke="#e2ecd9" stroke-width="0.9"/>
<line x1="116.20" y1="570.00" x2="120.20" y2="570.00" stroke="#e2ecd9" stroke-width="0.9"/>
<line x1="127.30" y1="544.00" x2="127.30" y2="562.00" stroke="#e2ecd9" stroke-width="0.9"/>
<line x1="125.30" y1="544.00" x2="129.30" y2="544.00" stroke="#e2ecd9" stroke-width="0.9"/>
<line x1="125.30" y1="562.00" x2="129.30" y2="562.00" stroke="#e2ecd9" stroke-width="0.9"/>
<line x1="138.70" y1="532.00" x2="138.70" y2="548.00" stroke="#e2ecd9" stroke-width="0.9"/>
<line x1="136.70" y1="532.00" x2="140.70" y2="532.00" stroke="#e2ecd9" stroke-width="0.9"/>
<line x1="136.70" y1="548.00" x2="140.70" y2="548.00" stroke="#e2ecd9" stroke-width="0.9"/>
<polyline points="64.60,593.70 76.40,587.00 85.60,584.00 100.40,577.50 109.50,570.00 118.20,562.00 127.30,553.00 138.70,540.00" fill="none" stroke="#d7e5cb" stroke-width="1.3" stroke-linejoin="round"/>
<circle cx="64.60" cy="593.70" r="1.40" fill="#d7e5cb"/>
<circle cx="76.40" cy="587.00" r="1.40" fill="#d7e5cb"/>
<circle cx="85.60" cy="584.00" r="1.40" fill="#d7e5cb"/>
<circle cx="100.40" cy="577.50" r="1.40" fill="#d7e5cb"/>
<circle cx="109.50" cy="570.00" r="1.40" fill="#d7e5cb"/>
<circle cx="118.20" cy="562.00" r="1.40" fill="#d7e5cb"/>
<circle cx="127.30" cy="553.00" r="1.40" fill="#d7e5cb"/>
<circle cx="138.70" cy="540.00" r="1.40" fill="#d7e5cb"/>
<line x1="76.40" y1="585.00" x2="76.40" y2="587.00" stroke="#d4d4d4" stroke-width="0.9"/>
<line x1="74.40" y1="585.00" x2="78.40" y2="585.00" stroke="#d4d4d4" stroke-width="0.9"/>
<line x1="74.40" y1="587.00" x2="78.40" y2="587.00" stroke="#d4d4d4" stroke-width="0.9"/>
<line x1="85.60" y1="580.00" x2="85.60" y2="584.00" stroke="#d4d4d4" stroke-width="0.9"/>
<line x1="83.60" y1="580.00" x2="87.60" y2="580.00" stroke="#d4d4d4" stroke-width="0.9"/>
<line x1="83.60" y1="584.00" x2="87.60" y2="584.00" stroke="#d4d4d4" stroke-width="0.9"/>
<line x1="100.40" y1="576.00" x2="100.40" y2="582.00" stroke="#d4d4d4" stroke-width="0.9"/>
<line x1="98.40" y1="576.00" x2="102.40" y2="576.00" stroke="#d4d4d4" stroke-width="0.9"/>
<line x1="98.40" y1="582.00" x2="102.40" y2="582.00" stroke="#d4d4d4" stroke-width="0.9"/>
<line x1="109.50" y1="560.40" x2="109.50" y2="578.40" stroke="#d4d4d4" stroke-width="0.9"/>
<line x1="107.50" y1="560.40" x2="111.50" y2="560.40" stroke="#d4d4d4" stroke-width="0.9"/>
<line x1="107.50" y1="578.40" x2="111.50" y2="578.40" stroke="#d4d4d4" stroke-width="0.9"/>
<line x1="118.20" y1="546.00" x2="118.20" y2="556.00" stroke="#d4d4d4" stroke-width="0.9"/>
<line x1="116.20" y1="546.00" x2="120.20" y2="546.00" stroke="#d4d4d4" stroke-width="0.9"/>
<line x1="116.20" y1="556.00" x2="120.20" y2="556.00" stroke="#d4d4d4" stroke-width="0.9"/>
<polyline points="64.60,593.70 76.40,586.00 85.60,582.00 100.40,579.00 109.50,569.40 118.20,551.00" fill="none" stroke="#c6c6c6" stroke-width="1.3" stroke-linejoin="round"/>
<circle cx="64.60" cy="593.70" r="1.60" fill="#c6c6c6"/>
<circle cx="76.40" cy="586.00" r="1.60" fill="#c6c6c6"/>
<circle cx="85.60" cy="582.00" r="1.60" fill="#c6c6c6"/>
<circle cx="100.40" cy="579.00" r="1.60" fill="#c6c6c6"/>
<circle cx="109.50" cy="569.40" r="1.60" fill="#c6c6c6"/>
<circle cx="118.20" cy="551.00" r="1.60" fill="#c6c6c6"/>
<line x1="76.40" y1="587.00" x2="76.40" y2="589.00" stroke="#c0e0b6" stroke-width="0.9"/>
<line x1="74.40" y1="587.00" x2="78.40" y2="587.00" stroke="#c0e0b6" stroke-width="0.9"/>
<line x1="74.40" y1="589.00" x2="78.40" y2="589.00" stroke="#c0e0b6" stroke-width="0.9"/>
<line x1="85.60" y1="583.00" x2="85.60" y2="587.00" stroke="#c0e0b6" stroke-width="0.9"/>
<line x1="83.60" y1="583.00" x2="87.60" y2="583.00" stroke="#c0e0b6" stroke-width="0.9"/>
<line x1="83.60" y1="587.00" x2="87.60" y2="587.00" stroke="#c0e0b6" stroke-width="0.9"/>
<line x1="100.40" y1="580.00" x2="100.40" y2="584.00" stroke="#c0e0b6" stroke-width="0.9"/>
<line x1="98.40" y1="580.00" x2="102.40" y2="580.00" stroke="#c0e0b6" stroke-width="0.9"/>
<line x1="98.40" y1="584.00" x2="102.40" y2="584.00" stroke="#c0e0b6" stroke-width="0.9"/>
<line x1="109.50" y1="577.20" x2="109.50" y2="583.20" stroke="#c0e0b6" stroke-width="0.9"/>
<line x1="107.50" y1="577.20" x2="111.50" y2="577.20" stroke="#c0e0b6" stroke-width="0.9"/>
<line x1="107.50" y1="583.20" x2="111.50" y2="583.20" stroke="#c0e0b6" stroke-width="0.9"/>
<line x1="118.20" y1="568.00" x2="118.20" y2="578.00" stroke="#c0e0b6" stroke-width="0.9"/>
<line x1="116.20" y1="568.00" x2="120.20" y2="568.00" stroke="#c0e0b6" stroke-width="0.9"/>
<line x1="116.20" y1="578.00" x2="120.20" y2="578.00" stroke="#c0e0b6" stroke-width="0.9"/>
<line x1="127.30" y1="562.00" x2="127.30" y2="572.00" stroke="#c0e0b6" stroke-width="0.9"/>
<line x1="125.30" y1="562.00" x2="129.30" y2="562.00" stroke="#c0e0b6" stroke-width="0.9"/>
<line x1="125.30" y1="572.00" x2="129.30" y2="572.00" stroke="#c0e0b6" stroke-width="0.9"/>
<line x1="138.70" y1="544.20" x2="138.70" y2="558.20" stroke="#c0e0b6" stroke-width="0.9"/>
<line x1="136.70" y1="544.20" x2="140.70" y2="544.20" stroke="#c0e0b6" stroke-width="0.9"/>
<line x1="136.70" y1="558.20" x2="140.70" y2="558.20" stroke="#c0e0b6" stroke-width="0.9"/>
<polyline points="64.60,593.70 76.40,588.00 85.60,585.00 100.40,582.00 109.50,580.20 118.20,573.00 127.30,567.00 138.70,551.20" fill="none" stroke="#9fd092" stroke-width="1.3" stroke-linejoin="round"/>
<circle cx="64.60" cy="593.70" r="1.40" fill="#9fd092"/>
<circle cx="76.40" cy="588.00" r="1.40" fill="#9fd092"/>
<circle cx="85.60" cy="585.00" r="1.40" fill="#9fd092"/>
<circle cx="100.40" cy="582.00" r="1.40" fill="#9fd092"/>
<circle cx="109.50" cy="580.20" r="1.40" fill="#9fd092"/>
<circle cx="118.20" cy="573.00" r="1.40" fill="#9fd092"/>
<circle cx="127.30" cy="567.00" r="1.40" fill="#9fd092"/>
<circle cx="138.70" cy="551.20" r="1.40" fill="#9fd092"/>
<line x1="85.50" y1="592.00" x2="85.50" y2="593.00" stroke="#5aae5a" stroke-width="0.9"/>
<line x1="83.50" y1="592.00" x2="87.50" y2="592.00" stroke="#5aae5a" stroke-width="0.9"/>
<line x1="83.50" y1="593.00" x2="87.50" y2="593.00" stroke="#5aae5a" stroke-width="0.9"/>
<line x1="100.40" y1="593.30" x2="100.40" y2="595.30" stroke="#5aae5a" stroke-width="0.9"/>
<line x1="98.40" y1="593.30" x2="102.40" y2="593.30" stroke="#5aae5a" stroke-width="0.9"/>
<line x1="98.40" y1="595.30" x2="102.40" y2="595.30" stroke="#5aae5a" stroke-width="0.9"/>
<line x1="109.50" y1="594.20" x2="109.50" y2="595.20" stroke="#5aae5a" stroke-width="0.9"/>
<line x1="107.50" y1="594.20" x2="111.50" y2="594.20" stroke="#5aae5a" stroke-width="0.9"/>
<line x1="107.50" y1="595.20" x2="111.50" y2="595.20" stroke="#5aae5a" stroke-width="0.9"/>
<line x1="118.20" y1="593.90" x2="118.20" y2="594.90" stroke="#5aae5a" stroke-width="0.9"/>
<line x1="116.20" y1="593.90" x2="120.20" y2="593.90" stroke="#5aae5a" stroke-width="0.9"/>
<line x1="116.20" y1="594.90" x2="120.20" y2="594.90" stroke="#5aae5a" stroke-width="0.9"/>
<line x1="127.10" y1="593.70" x2="127.10" y2="594.70" stroke="#5aae5a" stroke-width="0.9"/>
<line x1="125.10" y1="593.70" x2="129.10" y2="593.70" stroke="#5aae5a" stroke-width="0.9"/>
<line x1="125.10" y1="594.70" x2="129.10" y2="594.70" stroke="#5aae5a" stroke-width="0.9"/>
<line x1="138.70" y1="592.40" x2="138.70" y2="594.40" stroke="#5aae5a" stroke-width="0.9"/>
<line x1="136.70" y1="592.40" x2="140.70" y2="592.40" stroke="#5aae5a" stroke-width="0.9"/>
<line x1="136.70" y1="594.40" x2="140.70" y2="594.40" stroke="#5aae5a" stroke-width="0.9"/>
<line x1="148.00" y1="590.00" x2="148.00" y2="593.00" stroke="#5aae5a" stroke-width="0.9"/>
<line x1="146.00" y1="590.00" x2="150.00" y2="590.00" stroke="#5aae5a" stroke-width="0.9"/>
<line x1="146.00" y1="593.00" x2="150.00" y2="593.00" stroke="#5aae5a" stroke-width="0.9"/>
<line x1="159.80" y1="587.30" x2="159.80" y2="593.30" stroke="#5aae5a" stroke-width="0.9"/>
<line x1="157.80" y1="587.30" x2="161.80" y2="587.30" stroke="#5aae5a" stroke-width="0.9"/>
<line x1="157.80" y1="593.30" x2="161.80" y2="593.30" stroke="#5aae5a" stroke-width="0.9"/>
<line x1="168.80" y1="592.50" x2="168.80" y2="593.50" stroke="#5aae5a" stroke-width="0.9"/>
<line x1="166.80" y1="592.50" x2="170.80" y2="592.50" stroke="#5aae5a" stroke-width="0.9"/>
<line x1="166.80" y1="593.50" x2="170.80" y2="593.50" stroke="#5aae5a" stroke-width="0.9"/>
<line x1="180.50" y1="586.30" x2="180.50" y2="592.30" stroke="#5aae5a" stroke-width="0.9"/>
<line x1="178.50" y1="586.30" x2="182.50" y2="586.30" stroke="#5aae5a" stroke-width="0.9"/>
<line x1="178.50" y1="592.30" x2="182.50" y2="592.30" stroke="#5aae5a" stroke-width="0.9"/>
<line x1="189.60" y1="577.30" x2="189.60" y2="590.30" stroke="#5aae5a" stroke-width="0.9"/>
<line x1="187.60" y1="577.30" x2="191.60" y2="577.30" stroke="#5aae5a" stroke-width="0.9"/>
<line x1="187.60" y1="590.30" x2="191.60" y2="590.30" stroke="#5aae5a" stroke-width="0.9"/>
<line x1="201.80" y1="568.00" x2="201.80" y2="588.00" stroke="#5aae5a" stroke-width="0.9"/>
<line x1="199.80" y1="568.00" x2="203.80" y2="568.00" stroke="#5aae5a" stroke-width="0.9"/>
<line x1="199.80" y1="588.00" x2="203.80" y2="588.00" stroke="#5aae5a" stroke-width="0.9"/>
<line x1="210.60" y1="566.30" x2="210.60" y2="587.30" stroke="#5aae5a" stroke-width="0.9"/>
<line x1="208.60" y1="566.30" x2="212.60" y2="566.30" stroke="#5aae5a" stroke-width="0.9"/>
<line x1="208.60" y1="587.30" x2="212.60" y2="587.30" stroke="#5aae5a" stroke-width="0.9"/>
<line x1="225.60" y1="558.00" x2="225.60" y2="581.00" stroke="#5aae5a" stroke-width="0.9"/>
<line x1="223.60" y1="558.00" x2="227.60" y2="558.00" stroke="#5aae5a" stroke-width="0.9"/>
<line x1="223.60" y1="581.00" x2="227.60" y2="581.00" stroke="#5aae5a" stroke-width="0.9"/>
<polyline points="64.60,593.70 73.70,591.20 85.50,592.50 100.40,594.30 109.50,594.70 118.20,594.40 127.10,594.20 138.70,593.40 148.00,591.50 159.80,590.30 168.80,593.00 180.50,589.30 189.60,583.80 201.80,578.00 210.60,576.80 225.60,569.50" fill="none" stroke="#3aa63a" stroke-width="1.3" stroke-linejoin="round"/>
<rect x="62.90" y="592.00" width="3.40" height="3.40" fill="#3aa63a"/>
<rect x="72.00" y="589.50" width="3.40" height="3.40" fill="#3aa63a"/>
<rect x="83.80" y="590.80" width="3.40" height="3.40" fill="#3aa63a"/>
<rect x="98.70" y="592.60" width="3.40" height="3.40" fill="#3aa63a"/>
<rect x="107.80" y="593.00" width="3.40" height="3.40" fill="#3aa63a"/>
<rect x="116.50" y="592.70" width="3.40" height="3.40" fill="#3aa63a"/>
<rect x="125.40" y="592.50" width="3.40" height="3.40" fill="#3aa63a"/>
<rect x="137.00" y="591.70" width="3.40" height="3.40" fill="#3aa63a"/>
<rect x="146.30" y="589.80" width="3.40" height="3.40" fill="#3aa63a"/>
<rect x="158.10" y="588.60" width="3.40" height="3.40" fill="#3aa63a"/>
<rect x="167.10" y="591.30" width="3.40" height="3.40" fill="#3aa63a"/>
<rect x="178.80" y="587.60" width="3.40" height="3.40" fill="#3aa63a"/>
<rect x="187.90" y="582.10" width="3.40" height="3.40" fill="#3aa63a"/>
<rect x="200.10" y="576.30" width="3.40" height="3.40" fill="#3aa63a"/>
<rect x="208.90" y="575.10" width="3.40" height="3.40" fill="#3aa63a"/>
<rect x="223.90" y="567.80" width="3.40" height="3.40" fill="#3aa63a"/>
<line x1="73.10" y1="589.90" x2="73.10" y2="591.90" stroke="#8a6a45" stroke-width="0.9"/>
<line x1="71.10" y1="589.90" x2="75.10" y2="589.90" stroke="#8a6a45" stroke-width="0.9"/>
<line x1="71.10" y1="591.90" x2="75.10" y2="591.90" stroke="#8a6a45" stroke-width="0.9"/>
<line x1="88.20" y1="587.50" x2="88.20" y2="589.50" stroke="#8a6a45" stroke-width="0.9"/>
<line x1="86.20" y1="587.50" x2="90.20" y2="587.50" stroke="#8a6a45" stroke-width="0.9"/>
<line x1="86.20" y1="589.50" x2="90.20" y2="589.50" stroke="#8a6a45" stroke-width="0.9"/>
<line x1="97.40" y1="586.80" x2="97.40" y2="588.80" stroke="#8a6a45" stroke-width="0.9"/>
<line x1="95.40" y1="586.80" x2="99.40" y2="586.80" stroke="#8a6a45" stroke-width="0.9"/>
<line x1="95.40" y1="588.80" x2="99.40" y2="588.80" stroke="#8a6a45" stroke-width="0.9"/>
<line x1="106.30" y1="582.80" x2="106.30" y2="586.80" stroke="#8a6a45" stroke-width="0.9"/>
<line x1="104.30" y1="582.80" x2="108.30" y2="582.80" stroke="#8a6a45" stroke-width="0.9"/>
<line x1="104.30" y1="586.80" x2="108.30" y2="586.80" stroke="#8a6a45" stroke-width="0.9"/>
<line x1="115.30" y1="583.70" x2="115.30" y2="586.70" stroke="#8a6a45" stroke-width="0.9"/>
<line x1="113.30" y1="583.70" x2="117.30" y2="583.70" stroke="#8a6a45" stroke-width="0.9"/>
<line x1="113.30" y1="586.70" x2="117.30" y2="586.70" stroke="#8a6a45" stroke-width="0.9"/>
<line x1="127.00" y1="570.70" x2="127.00" y2="575.70" stroke="#8a6a45" stroke-width="0.9"/>
<line x1="125.00" y1="570.70" x2="129.00" y2="570.70" stroke="#8a6a45" stroke-width="0.9"/>
<line x1="125.00" y1="575.70" x2="129.00" y2="575.70" stroke="#8a6a45" stroke-width="0.9"/>
<line x1="136.10" y1="557.90" x2="136.10" y2="568.90" stroke="#8a6a45" stroke-width="0.9"/>
<line x1="134.10" y1="557.90" x2="138.10" y2="557.90" stroke="#8a6a45" stroke-width="0.9"/>
<line x1="134.10" y1="568.90" x2="138.10" y2="568.90" stroke="#8a6a45" stroke-width="0.9"/>
<line x1="147.90" y1="552.90" x2="147.90" y2="563.90" stroke="#8a6a45" stroke-width="0.9"/>
<line x1="145.90" y1="552.90" x2="149.90" y2="552.90" stroke="#8a6a45" stroke-width="0.9"/>
<line x1="145.90" y1="563.90" x2="149.90" y2="563.90" stroke="#8a6a45" stroke-width="0.9"/>
<line x1="156.70" y1="539.10" x2="156.70" y2="557.10" stroke="#8a6a45" stroke-width="0.9"/>
<line x1="154.70" y1="539.10" x2="158.70" y2="539.10" stroke="#8a6a45" stroke-width="0.9"/>
<line x1="154.70" y1="557.10" x2="158.70" y2="557.10" stroke="#8a6a45" stroke-width="0.9"/>
<polyline points="64.60,593.70 73.10,590.90 88.20,588.50 97.40,587.80 106.30,584.80 115.30,585.20 127.00,573.20 136.10,563.40 147.90,558.40 156.70,548.10" fill="none" stroke="#6d3f15" stroke-width="1.3" stroke-linejoin="round"/>
<rect x="62.90" y="592.00" width="3.40" height="3.40" fill="#6d3f15"/>
<rect x="71.40" y="589.20" width="3.40" height="3.40" fill="#6d3f15"/>
<rect x="86.50" y="586.80" width="3.40" height="3.40" fill="#6d3f15"/>
<rect x="95.70" y="586.10" width="3.40" height="3.40" fill="#6d3f15"/>
<rect x="104.60" y="583.10" width="3.40" height="3.40" fill="#6d3f15"/>
<rect x="113.60" y="583.50" width="3.40" height="3.40" fill="#6d3f15"/>
<rect x="125.30" y="571.50" width="3.40" height="3.40" fill="#6d3f15"/>
<rect x="134.40" y="561.70" width="3.40" height="3.40" fill="#6d3f15"/>
<rect x="146.20" y="556.70" width="3.40" height="3.40" fill="#6d3f15"/>
<rect x="155.00" y="546.40" width="3.40" height="3.40" fill="#6d3f15"/>
<line x1="76.40" y1="582.50" x2="76.40" y2="584.50" stroke="#b8aee0" stroke-width="0.9"/>
<line x1="74.40" y1="582.50" x2="78.40" y2="582.50" stroke="#b8aee0" stroke-width="0.9"/>
<line x1="74.40" y1="584.50" x2="78.40" y2="584.50" stroke="#b8aee0" stroke-width="0.9"/>
<line x1="88.00" y1="564.00" x2="88.00" y2="568.00" stroke="#b8aee0" stroke-width="0.9"/>
<line x1="86.00" y1="564.00" x2="90.00" y2="564.00" stroke="#b8aee0" stroke-width="0.9"/>
<line x1="86.00" y1="568.00" x2="90.00" y2="568.00" stroke="#b8aee0" stroke-width="0.9"/>
<line x1="94.40" y1="545.50" x2="94.40" y2="563.50" stroke="#b8aee0" stroke-width="0.9"/>
<line x1="92.40" y1="545.50" x2="96.40" y2="545.50" stroke="#b8aee0" stroke-width="0.9"/>
<line x1="92.40" y1="563.50" x2="96.40" y2="563.50" stroke="#b8aee0" stroke-width="0.9"/>
<line x1="106.20" y1="508.50" x2="106.20" y2="529.50" stroke="#b8aee0" stroke-width="0.9"/>
<line x1="104.20" y1="508.50" x2="108.20" y2="508.50" stroke="#b8aee0" stroke-width="0.9"/>
<line x1="104.20" y1="529.50" x2="108.20" y2="529.50" stroke="#b8aee0" stroke-width="0.9"/>
<line x1="115.40" y1="482.80" x2="115.40" y2="507.80" stroke="#b8aee0" stroke-width="0.9"/>
<line x1="113.40" y1="482.80" x2="117.40" y2="482.80" stroke="#b8aee0" stroke-width="0.9"/>
<line x1="113.40" y1="507.80" x2="117.40" y2="507.80" stroke="#b8aee0" stroke-width="0.9"/>
<polyline points="64.60,593.70 76.40,583.50 88.00,566.00 94.40,554.50 106.20,519.00 115.40,495.30" fill="none" stroke="#8c7fcc" stroke-width="1.3" stroke-linejoin="round"/>
<circle cx="64.60" cy="593.70" r="1.00" fill="#8c7fcc"/>
<circle cx="76.40" cy="583.50" r="1.00" fill="#8c7fcc"/>
<circle cx="88.00" cy="566.00" r="1.00" fill="#8c7fcc"/>
<circle cx="94.40" cy="554.50" r="1.00" fill="#8c7fcc"/>
<circle cx="106.20" cy="519.00" r="1.00" fill="#8c7fcc"/>
<circle cx="115.40" cy="495.30" r="1.00" fill="#8c7fcc"/>
<line x1="76.40" y1="581.60" x2="76.40" y2="583.60" stroke="#5fb4e4" stroke-width="0.9"/>
<line x1="74.40" y1="581.60" x2="78.40" y2="581.60" stroke="#5fb4e4" stroke-width="0.9"/>
<line x1="74.40" y1="583.60" x2="78.40" y2="583.60" stroke="#5fb4e4" stroke-width="0.9"/>
<line x1="85.60" y1="569.10" x2="85.60" y2="575.10" stroke="#5fb4e4" stroke-width="0.9"/>
<line x1="83.60" y1="569.10" x2="87.60" y2="569.10" stroke="#5fb4e4" stroke-width="0.9"/>
<line x1="83.60" y1="575.10" x2="87.60" y2="575.10" stroke="#5fb4e4" stroke-width="0.9"/>
<line x1="94.40" y1="550.50" x2="94.40" y2="562.50" stroke="#5fb4e4" stroke-width="0.9"/>
<line x1="92.40" y1="550.50" x2="96.40" y2="550.50" stroke="#5fb4e4" stroke-width="0.9"/>
<line x1="92.40" y1="562.50" x2="96.40" y2="562.50" stroke="#5fb4e4" stroke-width="0.9"/>
<line x1="100.40" y1="530.50" x2="100.40" y2="554.50" stroke="#5fb4e4" stroke-width="0.9"/>
<line x1="98.40" y1="530.50" x2="102.40" y2="530.50" stroke="#5fb4e4" stroke-width="0.9"/>
<line x1="98.40" y1="554.50" x2="102.40" y2="554.50" stroke="#5fb4e4" stroke-width="0.9"/>
<polyline points="64.60,593.70 76.40,582.60 85.60,572.10 94.40,556.50 100.40,542.50" fill="none" stroke="#35a0dc" stroke-width="1.3" stroke-linejoin="round"/>
<rect x="62.90" y="592.00" width="3.40" height="3.40" fill="#35a0dc"/>
<rect x="74.70" y="580.90" width="3.40" height="3.40" fill="#35a0dc"/>
<rect x="83.90" y="570.40" width="3.40" height="3.40" fill="#35a0dc"/>
<rect x="92.70" y="554.80" width="3.40" height="3.40" fill="#35a0dc"/>
<rect x="98.70" y="540.80" width="3.40" height="3.40" fill="#35a0dc"/>
<line x1="76.40" y1="579.10" x2="76.40" y2="582.10" stroke="#3b6aa3" stroke-width="0.9"/>
<line x1="74.40" y1="579.10" x2="78.40" y2="579.10" stroke="#3b6aa3" stroke-width="0.9"/>
<line x1="74.40" y1="582.10" x2="78.40" y2="582.10" stroke="#3b6aa3" stroke-width="0.9"/>
<line x1="85.60" y1="553.80" x2="85.60" y2="564.80" stroke="#3b6aa3" stroke-width="0.9"/>
<line x1="83.60" y1="553.80" x2="87.60" y2="553.80" stroke="#3b6aa3" stroke-width="0.9"/>
<line x1="83.60" y1="564.80" x2="87.60" y2="564.80" stroke="#3b6aa3" stroke-width="0.9"/>
<line x1="100.40" y1="503.10" x2="100.40" y2="516.30" stroke="#3b6aa3" stroke-width="0.9"/>
<line x1="98.40" y1="503.10" x2="102.40" y2="503.10" stroke="#3b6aa3" stroke-width="0.9"/>
<line x1="98.40" y1="516.30" x2="102.40" y2="516.30" stroke="#3b6aa3" stroke-width="0.9"/>
<polyline points="64.60,593.70 76.40,580.60 85.60,559.30 100.40,509.70" fill="none" stroke="#1b4d87" stroke-width="1.3" stroke-linejoin="round"/>
<circle cx="64.60" cy="593.70" r="1.30" fill="#1b4d87"/>
<circle cx="76.40" cy="580.60" r="1.30" fill="#1b4d87"/>
<circle cx="85.60" cy="559.30" r="1.30" fill="#1b4d87"/>
<circle cx="100.40" cy="509.70" r="1.30" fill="#1b4d87"/>
<text x="382.78" y="441.25" font-size="10.2" textLength="67.18" lengthAdjust="spacingAndGlyphs">Total Antibody</text>
<line x1="395.50" y1="461.90" x2="405.50" y2="461.90" stroke="#d3e5c8" stroke-width="1.1"/>
<path d="M400.50 458.90L403.50 461.90L400.50 464.90L397.50 461.90Z" fill="#d3e5c8"/>
<text x="409.50" y="464.50" font-size="7.9" textLength="81.80" lengthAdjust="spacingAndGlyphs">ABBV-319, 1 mg/kg, SD</text>
<line x1="395.50" y1="470.80" x2="405.50" y2="470.80" stroke="#8dc47b" stroke-width="1.1"/>
<circle cx="400.50" cy="470.80" r="2.60" fill="#8dc47b"/>
<text x="409.50" y="473.40" font-size="7.9" textLength="81.80" lengthAdjust="spacingAndGlyphs">ABBV-319, 3 mg/kg, SD</text>
<line x1="395.50" y1="479.60" x2="405.50" y2="479.60" stroke="#3aa63a" stroke-width="1.1"/>
<rect x="398.00" y="477.10" width="5.00" height="5.00" fill="#3aa63a"/>
<text x="409.50" y="482.20" font-size="7.9" textLength="85.50" lengthAdjust="spacingAndGlyphs">ABBV-319, 10 mg/kg, SD</text>
<text x="300.4" y="579.4" font-size="10.4" textLength="81" lengthAdjust="spacingAndGlyphs" transform="rotate(-90 300.4 579.4)">Concentration (μg/mL)</text>
<line x1="325.00" y1="478.00" x2="325.00" y2="600.60" stroke="#231f20" stroke-width="1.4"/>
<line x1="321.20" y1="480.50" x2="325.00" y2="480.50" stroke="#231f20" stroke-width="1.4"/>
<text x="318.00" y="483.50" font-size="8.4" text-anchor="end" textLength="12.20" lengthAdjust="spacingAndGlyphs">100</text>
<line x1="321.20" y1="540.50" x2="325.00" y2="540.50" stroke="#231f20" stroke-width="1.4"/>
<text x="318.00" y="543.50" font-size="8.4" text-anchor="end" textLength="8.00" lengthAdjust="spacingAndGlyphs">10</text>
<line x1="321.20" y1="600.50" x2="325.00" y2="600.50" stroke="#231f20" stroke-width="1.4"/>
<text x="318.00" y="603.50" font-size="8.4" text-anchor="end" textLength="3.90" lengthAdjust="spacingAndGlyphs">1</text>
<line x1="325.00" y1="600.60" x2="506.50" y2="600.60" stroke="#231f20" stroke-width="1.4"/>
<line x1="325.00" y1="600.60" x2="325.00" y2="604.20" stroke="#231f20" stroke-width="1.4"/>
<text x="323.05" y="614.00" font-size="8.4" textLength="3.90" lengthAdjust="spacingAndGlyphs">0</text>
<line x1="385.00" y1="600.60" x2="385.00" y2="604.20" stroke="#231f20" stroke-width="1.4"/>
<text x="379.00" y="614.00" font-size="8.4" textLength="12.00" lengthAdjust="spacingAndGlyphs">168</text>
<line x1="444.30" y1="600.60" x2="444.30" y2="604.20" stroke="#231f20" stroke-width="1.4"/>
<text x="438.30" y="614.00" font-size="8.4" textLength="12.00" lengthAdjust="spacingAndGlyphs">336</text>
<line x1="504.40" y1="600.60" x2="504.40" y2="604.20" stroke="#231f20" stroke-width="1.4"/>
<text x="498.40" y="614.00" font-size="8.4" textLength="12.00" lengthAdjust="spacingAndGlyphs">504</text>
<text x="400.50" y="628.30" font-size="10.0" textLength="32.00" lengthAdjust="spacingAndGlyphs">Time (hr)</text>
<line x1="322.80" y1="511.00" x2="327.40" y2="511.00" stroke="#333" stroke-width="0.9"/>
<line x1="322.80" y1="515.00" x2="327.40" y2="515.00" stroke="#333" stroke-width="0.9"/>
<line x1="322.80" y1="532.70" x2="327.40" y2="532.70" stroke="#333" stroke-width="0.9"/>
<line x1="322.80" y1="536.80" x2="327.40" y2="536.80" stroke="#333" stroke-width="0.9"/>
<line x1="322.80" y1="559.00" x2="327.40" y2="559.00" stroke="#333" stroke-width="0.9"/>
<line x1="322.80" y1="562.00" x2="327.40" y2="562.00" stroke="#333" stroke-width="0.9"/>
<line x1="322.80" y1="580.20" x2="327.40" y2="580.20" stroke="#333" stroke-width="0.9"/>
<line x1="322.80" y1="590.20" x2="327.40" y2="590.20" stroke="#333" stroke-width="0.9"/>
<line x1="376.25" y1="558.60" x2="376.25" y2="567.40" stroke="#333" stroke-width="0.9"/>
<line x1="374.05" y1="558.60" x2="378.45" y2="558.60" stroke="#333" stroke-width="0.9"/>
<line x1="374.05" y1="567.40" x2="378.45" y2="567.40" stroke="#333" stroke-width="0.9"/>
<line x1="495.00" y1="584.25" x2="495.00" y2="594.25" stroke="#333" stroke-width="0.9"/>
<line x1="492.80" y1="584.25" x2="497.20" y2="584.25" stroke="#333" stroke-width="0.9"/>
<line x1="492.80" y1="594.25" x2="497.20" y2="594.25" stroke="#333" stroke-width="0.9"/>
<polyline points="326.00,570.00 326.00,541.50 333.75,543.75 359.25,551.75 376.25,563.00 435.50,575.00 495.00,589.25" fill="none" stroke="#d3e5c8" stroke-width="1.2" stroke-linejoin="round"/>
<path d="M326.00 567.00L329.00 570.00L326.00 573.00L323.00 570.00Z" fill="#d3e5c8"/>
<path d="M326.00 538.50L329.00 541.50L326.00 544.50L323.00 541.50Z" fill="#d3e5c8"/>
<path d="M333.75 540.75L336.75 543.75L333.75 546.75L330.75 543.75Z" fill="#d3e5c8"/>
<path d="M359.25 548.75L362.25 551.75L359.25 554.75L356.25 551.75Z" fill="#d3e5c8"/>
<path d="M376.25 560.00L379.25 563.00L376.25 566.00L373.25 563.00Z" fill="#d3e5c8"/>
<path d="M435.50 572.00L438.50 575.00L435.50 578.00L432.50 575.00Z" fill="#d3e5c8"/>
<path d="M495.00 586.25L498.00 589.25L495.00 592.25L492.00 589.25Z" fill="#d3e5c8"/>
<line x1="333.75" y1="506.25" x2="333.75" y2="523.75" stroke="#333" stroke-width="0.9"/>
<line x1="331.55" y1="506.25" x2="335.95" y2="506.25" stroke="#333" stroke-width="0.9"/>
<line x1="331.55" y1="523.75" x2="335.95" y2="523.75" stroke="#333" stroke-width="0.9"/>
<line x1="359.25" y1="521.10" x2="359.25" y2="527.90" stroke="#333" stroke-width="0.9"/>
<line x1="357.05" y1="521.10" x2="361.45" y2="521.10" stroke="#333" stroke-width="0.9"/>
<line x1="357.05" y1="527.90" x2="361.45" y2="527.90" stroke="#333" stroke-width="0.9"/>
<line x1="376.25" y1="526.90" x2="376.25" y2="533.10" stroke="#333" stroke-width="0.9"/>
<line x1="374.05" y1="526.90" x2="378.45" y2="526.90" stroke="#333" stroke-width="0.9"/>
<line x1="374.05" y1="533.10" x2="378.45" y2="533.10" stroke="#333" stroke-width="0.9"/>
<line x1="495.00" y1="549.25" x2="495.00" y2="557.25" stroke="#333" stroke-width="0.9"/>
<line x1="492.80" y1="549.25" x2="497.20" y2="549.25" stroke="#333" stroke-width="0.9"/>
<line x1="492.80" y1="557.25" x2="497.20" y2="557.25" stroke="#333" stroke-width="0.9"/>
<polyline points="326.00,564.50 326.00,520.00 333.75,515.00 359.25,524.50 376.25,530.00 435.50,541.25 495.00,553.25" fill="none" stroke="#8dc47b" stroke-width="1.2" stroke-linejoin="round"/>
<circle cx="326.00" cy="564.50" r="2.60" fill="#8dc47b"/>
<circle cx="326.00" cy="520.00" r="2.60" fill="#8dc47b"/>
<circle cx="333.75" cy="515.00" r="2.60" fill="#8dc47b"/>
<circle cx="359.25" cy="524.50" r="2.60" fill="#8dc47b"/>
<circle cx="376.25" cy="530.00" r="2.60" fill="#8dc47b"/>
<circle cx="435.50" cy="541.25" r="2.60" fill="#8dc47b"/>
<circle cx="495.00" cy="553.25" r="2.60" fill="#8dc47b"/>
<line x1="376.25" y1="485.10" x2="376.25" y2="495.90" stroke="#333" stroke-width="0.9"/>
<line x1="374.05" y1="485.10" x2="378.45" y2="485.10" stroke="#333" stroke-width="0.9"/>
<line x1="374.05" y1="495.90" x2="378.45" y2="495.90" stroke="#333" stroke-width="0.9"/>
<line x1="495.00" y1="513.75" x2="495.00" y2="523.75" stroke="#333" stroke-width="0.9"/>
<line x1="492.80" y1="513.75" x2="497.20" y2="513.75" stroke="#333" stroke-width="0.9"/>
<line x1="492.80" y1="523.75" x2="497.20" y2="523.75" stroke="#333" stroke-width="0.9"/>
<polyline points="326.00,547.00 326.00,497.00 333.75,485.00 359.25,488.75 376.25,490.50 435.50,508.75 495.00,518.75" fill="none" stroke="#3aa63a" stroke-width="1.2" stroke-linejoin="round"/>
<rect x="323.50" y="544.50" width="5.00" height="5.00" fill="#3aa63a"/>
<rect x="323.50" y="494.50" width="5.00" height="5.00" fill="#3aa63a"/>
<rect x="331.25" y="482.50" width="5.00" height="5.00" fill="#3aa63a"/>
<rect x="356.75" y="486.25" width="5.00" height="5.00" fill="#3aa63a"/>
<rect x="373.75" y="488.00" width="5.00" height="5.00" fill="#3aa63a"/>
<rect x="433.00" y="506.25" width="5.00" height="5.00" fill="#3aa63a"/>
<rect x="492.50" y="516.25" width="5.00" height="5.00" fill="#3aa63a"/>
<line x1="325.60" y1="486.00" x2="325.60" y2="541.00" stroke="#1e3a1e" stroke-width="1.6"/>
<text x="115.00" y="661.25" font-size="10.2" textLength="84.84" lengthAdjust="spacingAndGlyphs">OCI-LY19 (DLBCL)</text>
<text x="34.70" y="761.00" font-size="10.4" textLength="76" lengthAdjust="spacingAndGlyphs" transform="rotate(-90 34.70 761.00)">Tumor volume (mm<tspan font-size="6.6" dy="-4.0">3</tspan><tspan dy="4.0">)</tspan></text>
<line x1="64.50" y1="667.00" x2="64.50" y2="779.30" stroke="#231f20" stroke-width="1.4"/>
<line x1="60.70" y1="779.30" x2="64.50" y2="779.30" stroke="#231f20" stroke-width="1.4"/>
<text x="57.20" y="782.30" font-size="7.6" text-anchor="end" textLength="3.90" lengthAdjust="spacingAndGlyphs">0</text>
<line x1="60.70" y1="752.10" x2="64.50" y2="752.10" stroke="#231f20" stroke-width="1.4"/>
<text x="57.20" y="755.10" font-size="7.6" text-anchor="end" textLength="12.20" lengthAdjust="spacingAndGlyphs">500</text>
<line x1="60.70" y1="724.90" x2="64.50" y2="724.90" stroke="#231f20" stroke-width="1.4"/>
<text x="57.20" y="727.90" font-size="7.6" text-anchor="end" textLength="16.20" lengthAdjust="spacingAndGlyphs">1000</text>
<line x1="60.70" y1="697.70" x2="64.50" y2="697.70" stroke="#231f20" stroke-width="1.4"/>
<text x="57.20" y="700.70" font-size="7.6" text-anchor="end" textLength="16.20" lengthAdjust="spacingAndGlyphs">1500</text>
<line x1="60.70" y1="670.50" x2="64.50" y2="670.50" stroke="#231f20" stroke-width="1.4"/>
<text x="57.20" y="673.50" font-size="7.6" text-anchor="end" textLength="16.30" lengthAdjust="spacingAndGlyphs">2000</text>
<line x1="90.80" y1="683.80" x2="90.80" y2="698.00" stroke="#174a86" stroke-width="1.2"/>
<line x1="84.30" y1="683.80" x2="97.30" y2="683.80" stroke="#174a86" stroke-width="1.2"/>
<rect x="78.60" y="698.00" width="24.40" height="81.30" fill="#174a86"/>
<line x1="124.15" y1="749.90" x2="124.15" y2="758.10" stroke="#6e4016" stroke-width="1.2"/>
<line x1="117.65" y1="749.90" x2="130.65" y2="749.90" stroke="#6e4016" stroke-width="1.2"/>
<rect x="112.00" y="758.10" width="24.30" height="21.20" fill="#6e4016"/>
<line x1="157.15" y1="731.10" x2="157.15" y2="739.40" stroke="#d2e5c3" stroke-width="1.2"/>
<line x1="150.65" y1="731.10" x2="163.65" y2="731.10" stroke="#d2e5c3" stroke-width="1.2"/>
<rect x="145.00" y="739.40" width="24.30" height="39.90" fill="#d2e5c3"/>
<line x1="190.05" y1="752.50" x2="190.05" y2="759.40" stroke="#98c985" stroke-width="1.2"/>
<line x1="183.55" y1="752.50" x2="196.55" y2="752.50" stroke="#98c985" stroke-width="1.2"/>
<rect x="178.10" y="759.40" width="23.90" height="19.90" fill="#98c985"/>
<line x1="222.95" y1="758.60" x2="222.95" y2="766.00" stroke="#37a935" stroke-width="1.2"/>
<line x1="216.45" y1="758.60" x2="229.45" y2="758.60" stroke="#37a935" stroke-width="1.2"/>
<rect x="211.00" y="766.00" width="23.90" height="13.30" fill="#37a935"/>
<line x1="64.50" y1="779.30" x2="250.00" y2="779.30" stroke="#231f20" stroke-width="1.6"/>
<line x1="90.80" y1="779.30" x2="90.80" y2="782.30" stroke="#231f20" stroke-width="1.6"/>
<line x1="124.20" y1="779.30" x2="124.20" y2="782.30" stroke="#231f20" stroke-width="1.6"/>
<line x1="157.20" y1="779.30" x2="157.20" y2="782.30" stroke="#231f20" stroke-width="1.6"/>
<line x1="190.00" y1="779.30" x2="190.00" y2="782.30" stroke="#231f20" stroke-width="1.6"/>
<line x1="222.80" y1="779.30" x2="222.80" y2="782.30" stroke="#231f20" stroke-width="1.6"/>
<text x="92.40" y="792.20" font-size="8.6" text-anchor="end" textLength="24.5" lengthAdjust="spacingAndGlyphs" transform="rotate(-45 92.40 792.20)">Vehicle</text>
<text x="126.20" y="792.20" font-size="8.6" text-anchor="end" textLength="51.0" lengthAdjust="spacingAndGlyphs" transform="rotate(-45 126.20 792.20)">10 mg/kg GRM</text>
<text x="159.00" y="793.20" font-size="8.6" text-anchor="end" textLength="33.5" lengthAdjust="spacingAndGlyphs" transform="rotate(-45 159.00 793.20)">1.5 mg/kg</text>
<text x="191.80" y="793.20" font-size="8.6" text-anchor="end" textLength="28.0" lengthAdjust="spacingAndGlyphs" transform="rotate(-45 191.80 793.20)">5 mg/kg</text>
<text x="224.60" y="792.60" font-size="8.6" text-anchor="end" textLength="31.5" lengthAdjust="spacingAndGlyphs" transform="rotate(-45 224.60 792.60)">15 mg/kg</text>
<line x1="129.40" y1="819.60" x2="210.50" y2="819.60" stroke="#404040" stroke-width="1.35"/>
<text x="153.00" y="830.00" font-size="8.6" textLength="34.30" lengthAdjust="spacingAndGlyphs">ABBV-319</text>
<text x="290.4" y="744.3" font-size="10.4" textLength="42.3" lengthAdjust="spacingAndGlyphs" transform="rotate(-90 290.4 744.3)">Fold change</text>
<text x="301.6" y="770.4" font-size="10.4" textLength="93.0" lengthAdjust="spacingAndGlyphs" transform="rotate(-90 301.6 770.4)">(relative to vehicle control)</text>
<line x1="327.50" y1="667.00" x2="327.50" y2="779.20" stroke="#231f20" stroke-width="1.4"/>
<line x1="323.70" y1="779.10" x2="327.50" y2="779.10" stroke="#231f20" stroke-width="1.4"/>
<text x="321.00" y="782.10" font-size="7.6" text-anchor="end" textLength="3.90" lengthAdjust="spacingAndGlyphs">0</text>
<line x1="323.70" y1="742.90" x2="327.50" y2="742.90" stroke="#231f20" stroke-width="1.4"/>
<text x="321.00" y="745.90" font-size="7.6" text-anchor="end" textLength="12.20" lengthAdjust="spacingAndGlyphs">100</text>
<line x1="323.70" y1="706.50" x2="327.50" y2="706.50" stroke="#231f20" stroke-width="1.4"/>
<text x="321.00" y="709.50" font-size="7.6" text-anchor="end" textLength="12.20" lengthAdjust="spacingAndGlyphs">200</text>
<line x1="323.70" y1="670.50" x2="327.50" y2="670.50" stroke="#231f20" stroke-width="1.4"/>
<text x="321.00" y="673.50" font-size="7.6" text-anchor="end" textLength="12.20" lengthAdjust="spacingAndGlyphs">300</text>
<rect x="335.0" y="667.25" width="5.5" height="5.5" fill="#6e4016"/>
<text x="344.50" y="672.80" font-size="7.9" textLength="16.80" lengthAdjust="spacingAndGlyphs">GRM</text>
<rect x="335.0" y="678.50" width="5.5" height="5.5" fill="#d2e5c3"/>
<text x="344.50" y="684.05" font-size="7.9" textLength="74.30" lengthAdjust="spacingAndGlyphs">ABBV-319, 1.5 mg/kg</text>
<rect x="335.0" y="689.75" width="5.5" height="5.5" fill="#98c985"/>
<text x="344.50" y="695.30" font-size="7.9" textLength="67.50" lengthAdjust="spacingAndGlyphs">ABBV-319, 5 mg/kg</text>
<rect x="335.0" y="701.00" width="5.5" height="5.5" fill="#37a935"/>
<text x="344.50" y="706.55" font-size="7.9" textLength="71.80" lengthAdjust="spacingAndGlyphs">ABBV-319, 15 mg/kg</text>
<line x1="337.90" y1="773.60" x2="337.90" y2="775.00" stroke="#555" stroke-width="1.0"/>
<line x1="335.20" y1="773.60" x2="340.60" y2="773.60" stroke="#333" stroke-width="1.1"/>
<rect x="333.30" y="775.00" width="9.20" height="4.20" fill="#6e4016"/>
<line x1="351.00" y1="777.00" x2="351.00" y2="778.00" stroke="#555" stroke-width="1.0"/>
<line x1="348.30" y1="777.00" x2="353.70" y2="777.00" stroke="#333" stroke-width="1.1"/>
<rect x="348.20" y="778.00" width="5.60" height="1.20" fill="#d2e5c3"/>
<line x1="364.25" y1="771.20" x2="364.25" y2="773.00" stroke="#555" stroke-width="1.0"/>
<line x1="361.55" y1="771.20" x2="366.95" y2="771.20" stroke="#333" stroke-width="1.1"/>
<rect x="359.50" y="773.00" width="9.50" height="6.20" fill="#98c985"/>
<line x1="377.75" y1="765.00" x2="377.75" y2="767.00" stroke="#555" stroke-width="1.0"/>
<line x1="375.05" y1="765.00" x2="380.45" y2="765.00" stroke="#333" stroke-width="1.1"/>
<rect x="373.20" y="767.00" width="9.10" height="12.20" fill="#37a935"/>
<line x1="400.85" y1="769.20" x2="400.85" y2="770.80" stroke="#555" stroke-width="1.0"/>
<line x1="398.15" y1="769.20" x2="403.55" y2="769.20" stroke="#333" stroke-width="1.1"/>
<rect x="396.20" y="770.80" width="9.30" height="8.40" fill="#6e4016"/>
<line x1="414.15" y1="772.00" x2="414.15" y2="775.00" stroke="#555" stroke-width="1.0"/>
<line x1="411.45" y1="772.00" x2="416.85" y2="772.00" stroke="#333" stroke-width="1.1"/>
<rect x="409.50" y="775.00" width="9.30" height="4.20" fill="#d2e5c3"/>
<line x1="427.50" y1="763.70" x2="427.50" y2="766.20" stroke="#555" stroke-width="1.0"/>
<line x1="424.80" y1="763.70" x2="430.20" y2="763.70" stroke="#333" stroke-width="1.1"/>
<rect x="423.00" y="766.20" width="9.00" height="13.00" fill="#98c985"/>
<line x1="441.00" y1="753.20" x2="441.00" y2="756.20" stroke="#555" stroke-width="1.0"/>
<line x1="438.30" y1="753.20" x2="443.70" y2="753.20" stroke="#333" stroke-width="1.1"/>
<rect x="436.20" y="756.20" width="9.60" height="23.00" fill="#37a935"/>
<line x1="464.25" y1="748.00" x2="464.25" y2="753.80" stroke="#555" stroke-width="1.0"/>
<line x1="461.55" y1="748.00" x2="466.95" y2="748.00" stroke="#333" stroke-width="1.1"/>
<rect x="459.60" y="753.80" width="9.30" height="25.40" fill="#6e4016"/>
<line x1="477.30" y1="768.90" x2="477.30" y2="772.00" stroke="#555" stroke-width="1.0"/>
<line x1="474.60" y1="768.90" x2="480.00" y2="768.90" stroke="#333" stroke-width="1.1"/>
<rect x="472.80" y="772.00" width="9.00" height="7.20" fill="#d2e5c3"/>
<line x1="490.80" y1="727.40" x2="490.80" y2="734.20" stroke="#555" stroke-width="1.0"/>
<line x1="488.10" y1="727.40" x2="493.50" y2="727.40" stroke="#333" stroke-width="1.1"/>
<rect x="486.20" y="734.20" width="9.20" height="45.00" fill="#98c985"/>
<line x1="504.15" y1="683.40" x2="504.15" y2="695.80" stroke="#555" stroke-width="1.0"/>
<line x1="501.45" y1="683.40" x2="506.85" y2="683.40" stroke="#333" stroke-width="1.1"/>
<rect x="499.50" y="695.80" width="9.30" height="83.40" fill="#37a935"/>
<line x1="327.50" y1="779.20" x2="514.60" y2="779.20" stroke="#231f20" stroke-width="1.6"/>
<line x1="357.60" y1="779.20" x2="357.60" y2="782.00" stroke="#231f20" stroke-width="1.6"/>
<line x1="421.00" y1="779.20" x2="421.00" y2="782.00" stroke="#231f20" stroke-width="1.6"/>
<line x1="484.20" y1="779.20" x2="484.20" y2="782.00" stroke="#231f20" stroke-width="1.6"/>
<text x="346.30" y="792.80" font-size="8.6" textLength="23.00" lengthAdjust="spacingAndGlyphs">FKBP5</text>
<text x="405.50" y="792.80" font-size="8.6" textLength="30.80" lengthAdjust="spacingAndGlyphs">TSC22D3</text>
<text x="470.80" y="792.80" font-size="8.6" textLength="26.40" lengthAdjust="spacingAndGlyphs">ZBTB16</text>
<rect x="0.5" y="0.5" width="519" height="837" fill="none" stroke="#3a3a3a" stroke-width="1.2"/>
</svg></body></html>
